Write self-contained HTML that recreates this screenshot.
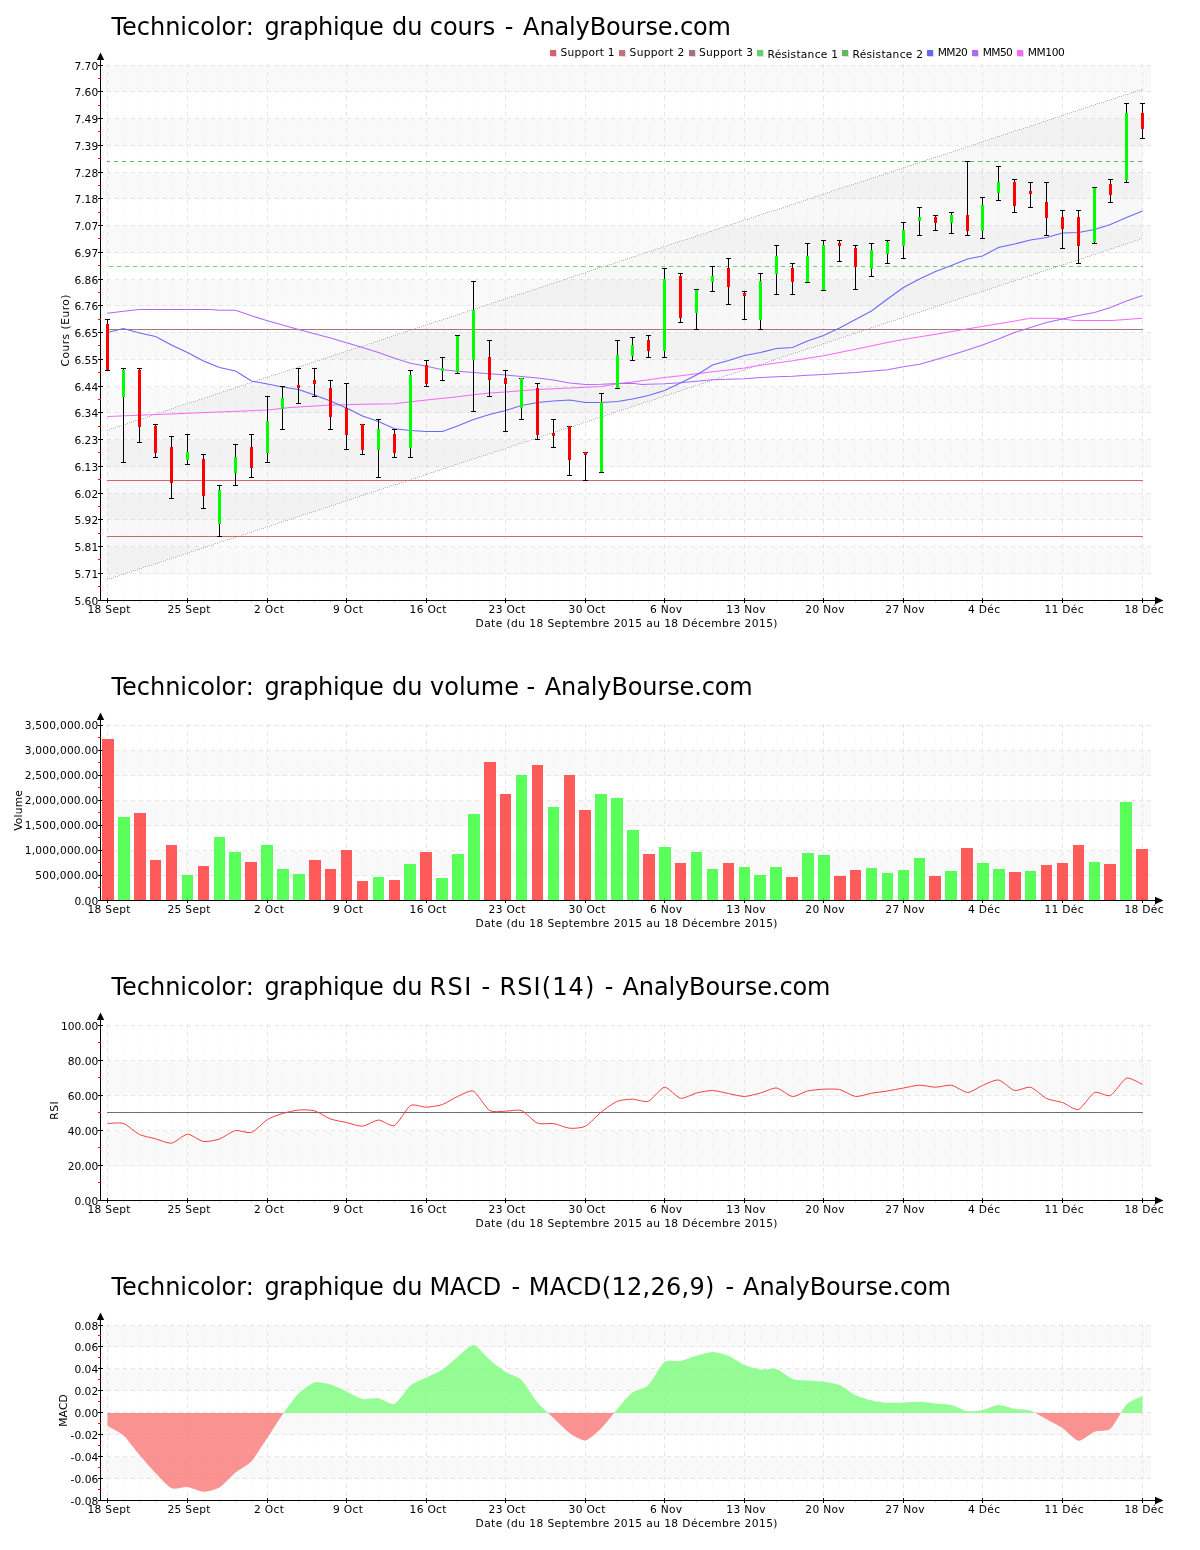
<!DOCTYPE html>
<html lang="fr"><head><meta charset="utf-8"><title>Technicolor - AnalyBourse.com</title>
<style>html,body{margin:0;padding:0;background:#fff}svg{display:block}text{font-family:"DejaVu Sans","Liberation Sans",sans-serif;fill:#000}.t{font-size:24px}.l{font-size:10.67px}</style></head><body>
<svg width="1200" height="1550" viewBox="0 0 1200 1550">
<rect width="1200" height="1550" fill="#fff"/>
<g shape-rendering="crispEdges">
<rect x="101" y="547" width="1050" height="27" fill="#f9f9f9"/>
<rect x="101" y="494" width="1050" height="26" fill="#f9f9f9"/>
<rect x="101" y="440" width="1050" height="27" fill="#f9f9f9"/>
<rect x="101" y="387" width="1050" height="26" fill="#f9f9f9"/>
<rect x="101" y="333" width="1050" height="27" fill="#f9f9f9"/>
<rect x="101" y="280" width="1050" height="26" fill="#f9f9f9"/>
<rect x="101" y="226" width="1050" height="27" fill="#f9f9f9"/>
<rect x="101" y="173" width="1050" height="26" fill="#f9f9f9"/>
<rect x="101" y="119" width="1050" height="27" fill="#f9f9f9"/>
<rect x="101" y="66" width="1050" height="26" fill="#f9f9f9"/>
<line x1="107.5" y1="64" x2="107.5" y2="600" stroke="#e5e5e5" stroke-dasharray="4 4"/>
<line x1="123.5" y1="64" x2="123.5" y2="600" stroke="#000" stroke-opacity="0.024" stroke-dasharray="6 6"/>
<line x1="139.5" y1="64" x2="139.5" y2="600" stroke="#000" stroke-opacity="0.024" stroke-dasharray="6 6"/>
<line x1="155.5" y1="64" x2="155.5" y2="600" stroke="#000" stroke-opacity="0.024" stroke-dasharray="6 6"/>
<line x1="171.5" y1="64" x2="171.5" y2="600" stroke="#000" stroke-opacity="0.024" stroke-dasharray="6 6"/>
<line x1="187.5" y1="64" x2="187.5" y2="600" stroke="#e5e5e5" stroke-dasharray="4 4"/>
<line x1="203.5" y1="64" x2="203.5" y2="600" stroke="#000" stroke-opacity="0.024" stroke-dasharray="6 6"/>
<line x1="219.5" y1="64" x2="219.5" y2="600" stroke="#000" stroke-opacity="0.024" stroke-dasharray="6 6"/>
<line x1="235.5" y1="64" x2="235.5" y2="600" stroke="#000" stroke-opacity="0.024" stroke-dasharray="6 6"/>
<line x1="251.5" y1="64" x2="251.5" y2="600" stroke="#000" stroke-opacity="0.024" stroke-dasharray="6 6"/>
<line x1="267.5" y1="64" x2="267.5" y2="600" stroke="#e5e5e5" stroke-dasharray="4 4"/>
<line x1="282.5" y1="64" x2="282.5" y2="600" stroke="#000" stroke-opacity="0.024" stroke-dasharray="6 6"/>
<line x1="298.5" y1="64" x2="298.5" y2="600" stroke="#000" stroke-opacity="0.024" stroke-dasharray="6 6"/>
<line x1="314.5" y1="64" x2="314.5" y2="600" stroke="#000" stroke-opacity="0.024" stroke-dasharray="6 6"/>
<line x1="330.5" y1="64" x2="330.5" y2="600" stroke="#000" stroke-opacity="0.024" stroke-dasharray="6 6"/>
<line x1="346.5" y1="64" x2="346.5" y2="600" stroke="#e5e5e5" stroke-dasharray="4 4"/>
<line x1="362.5" y1="64" x2="362.5" y2="600" stroke="#000" stroke-opacity="0.024" stroke-dasharray="6 6"/>
<line x1="378.5" y1="64" x2="378.5" y2="600" stroke="#000" stroke-opacity="0.024" stroke-dasharray="6 6"/>
<line x1="394.5" y1="64" x2="394.5" y2="600" stroke="#000" stroke-opacity="0.024" stroke-dasharray="6 6"/>
<line x1="410.5" y1="64" x2="410.5" y2="600" stroke="#000" stroke-opacity="0.024" stroke-dasharray="6 6"/>
<line x1="426.5" y1="64" x2="426.5" y2="600" stroke="#e5e5e5" stroke-dasharray="4 4"/>
<line x1="442.5" y1="64" x2="442.5" y2="600" stroke="#000" stroke-opacity="0.024" stroke-dasharray="6 6"/>
<line x1="457.5" y1="64" x2="457.5" y2="600" stroke="#000" stroke-opacity="0.024" stroke-dasharray="6 6"/>
<line x1="473.5" y1="64" x2="473.5" y2="600" stroke="#000" stroke-opacity="0.024" stroke-dasharray="6 6"/>
<line x1="489.5" y1="64" x2="489.5" y2="600" stroke="#000" stroke-opacity="0.024" stroke-dasharray="6 6"/>
<line x1="505.5" y1="64" x2="505.5" y2="600" stroke="#e5e5e5" stroke-dasharray="4 4"/>
<line x1="521.5" y1="64" x2="521.5" y2="600" stroke="#000" stroke-opacity="0.024" stroke-dasharray="6 6"/>
<line x1="537.5" y1="64" x2="537.5" y2="600" stroke="#000" stroke-opacity="0.024" stroke-dasharray="6 6"/>
<line x1="553.5" y1="64" x2="553.5" y2="600" stroke="#000" stroke-opacity="0.024" stroke-dasharray="6 6"/>
<line x1="569.5" y1="64" x2="569.5" y2="600" stroke="#000" stroke-opacity="0.024" stroke-dasharray="6 6"/>
<line x1="585.5" y1="64" x2="585.5" y2="600" stroke="#e5e5e5" stroke-dasharray="4 4"/>
<line x1="601.5" y1="64" x2="601.5" y2="600" stroke="#000" stroke-opacity="0.024" stroke-dasharray="6 6"/>
<line x1="617.5" y1="64" x2="617.5" y2="600" stroke="#000" stroke-opacity="0.024" stroke-dasharray="6 6"/>
<line x1="632.5" y1="64" x2="632.5" y2="600" stroke="#000" stroke-opacity="0.024" stroke-dasharray="6 6"/>
<line x1="648.5" y1="64" x2="648.5" y2="600" stroke="#000" stroke-opacity="0.024" stroke-dasharray="6 6"/>
<line x1="664.5" y1="64" x2="664.5" y2="600" stroke="#e5e5e5" stroke-dasharray="4 4"/>
<line x1="680.5" y1="64" x2="680.5" y2="600" stroke="#000" stroke-opacity="0.024" stroke-dasharray="6 6"/>
<line x1="696.5" y1="64" x2="696.5" y2="600" stroke="#000" stroke-opacity="0.024" stroke-dasharray="6 6"/>
<line x1="712.5" y1="64" x2="712.5" y2="600" stroke="#000" stroke-opacity="0.024" stroke-dasharray="6 6"/>
<line x1="728.5" y1="64" x2="728.5" y2="600" stroke="#000" stroke-opacity="0.024" stroke-dasharray="6 6"/>
<line x1="744.5" y1="64" x2="744.5" y2="600" stroke="#e5e5e5" stroke-dasharray="4 4"/>
<line x1="760.5" y1="64" x2="760.5" y2="600" stroke="#000" stroke-opacity="0.024" stroke-dasharray="6 6"/>
<line x1="776.5" y1="64" x2="776.5" y2="600" stroke="#000" stroke-opacity="0.024" stroke-dasharray="6 6"/>
<line x1="792.5" y1="64" x2="792.5" y2="600" stroke="#000" stroke-opacity="0.024" stroke-dasharray="6 6"/>
<line x1="807.5" y1="64" x2="807.5" y2="600" stroke="#000" stroke-opacity="0.024" stroke-dasharray="6 6"/>
<line x1="823.5" y1="64" x2="823.5" y2="600" stroke="#e5e5e5" stroke-dasharray="4 4"/>
<line x1="839.5" y1="64" x2="839.5" y2="600" stroke="#000" stroke-opacity="0.024" stroke-dasharray="6 6"/>
<line x1="855.5" y1="64" x2="855.5" y2="600" stroke="#000" stroke-opacity="0.024" stroke-dasharray="6 6"/>
<line x1="871.5" y1="64" x2="871.5" y2="600" stroke="#000" stroke-opacity="0.024" stroke-dasharray="6 6"/>
<line x1="887.5" y1="64" x2="887.5" y2="600" stroke="#000" stroke-opacity="0.024" stroke-dasharray="6 6"/>
<line x1="903.5" y1="64" x2="903.5" y2="600" stroke="#e5e5e5" stroke-dasharray="4 4"/>
<line x1="919.5" y1="64" x2="919.5" y2="600" stroke="#000" stroke-opacity="0.024" stroke-dasharray="6 6"/>
<line x1="935.5" y1="64" x2="935.5" y2="600" stroke="#000" stroke-opacity="0.024" stroke-dasharray="6 6"/>
<line x1="951.5" y1="64" x2="951.5" y2="600" stroke="#000" stroke-opacity="0.024" stroke-dasharray="6 6"/>
<line x1="967.5" y1="64" x2="967.5" y2="600" stroke="#000" stroke-opacity="0.024" stroke-dasharray="6 6"/>
<line x1="982.5" y1="64" x2="982.5" y2="600" stroke="#e5e5e5" stroke-dasharray="4 4"/>
<line x1="998.5" y1="64" x2="998.5" y2="600" stroke="#000" stroke-opacity="0.024" stroke-dasharray="6 6"/>
<line x1="1014.5" y1="64" x2="1014.5" y2="600" stroke="#000" stroke-opacity="0.024" stroke-dasharray="6 6"/>
<line x1="1030.5" y1="64" x2="1030.5" y2="600" stroke="#000" stroke-opacity="0.024" stroke-dasharray="6 6"/>
<line x1="1046.5" y1="64" x2="1046.5" y2="600" stroke="#000" stroke-opacity="0.024" stroke-dasharray="6 6"/>
<line x1="1062.5" y1="64" x2="1062.5" y2="600" stroke="#e5e5e5" stroke-dasharray="4 4"/>
<line x1="1078.5" y1="64" x2="1078.5" y2="600" stroke="#000" stroke-opacity="0.024" stroke-dasharray="6 6"/>
<line x1="1094.5" y1="64" x2="1094.5" y2="600" stroke="#000" stroke-opacity="0.024" stroke-dasharray="6 6"/>
<line x1="1110.5" y1="64" x2="1110.5" y2="600" stroke="#000" stroke-opacity="0.024" stroke-dasharray="6 6"/>
<line x1="1126.5" y1="64" x2="1126.5" y2="600" stroke="#000" stroke-opacity="0.024" stroke-dasharray="6 6"/>
<line x1="1142.5" y1="64" x2="1142.5" y2="600" stroke="#e5e5e5" stroke-dasharray="4 4"/>
<line x1="107" y1="573.5" x2="1151" y2="573.5" stroke="#e5e5e5" stroke-dasharray="4 4"/>
<line x1="107" y1="546.5" x2="1151" y2="546.5" stroke="#e5e5e5" stroke-dasharray="4 4"/>
<line x1="107" y1="519.5" x2="1151" y2="519.5" stroke="#e5e5e5" stroke-dasharray="4 4"/>
<line x1="107" y1="493.5" x2="1151" y2="493.5" stroke="#e5e5e5" stroke-dasharray="4 4"/>
<line x1="107" y1="466.5" x2="1151" y2="466.5" stroke="#e5e5e5" stroke-dasharray="4 4"/>
<line x1="107" y1="439.5" x2="1151" y2="439.5" stroke="#e5e5e5" stroke-dasharray="4 4"/>
<line x1="107" y1="412.5" x2="1151" y2="412.5" stroke="#e5e5e5" stroke-dasharray="4 4"/>
<line x1="107" y1="386.5" x2="1151" y2="386.5" stroke="#e5e5e5" stroke-dasharray="4 4"/>
<line x1="107" y1="359.5" x2="1151" y2="359.5" stroke="#e5e5e5" stroke-dasharray="4 4"/>
<line x1="107" y1="332.5" x2="1151" y2="332.5" stroke="#e5e5e5" stroke-dasharray="4 4"/>
<line x1="107" y1="305.5" x2="1151" y2="305.5" stroke="#e5e5e5" stroke-dasharray="4 4"/>
<line x1="107" y1="279.5" x2="1151" y2="279.5" stroke="#e5e5e5" stroke-dasharray="4 4"/>
<line x1="107" y1="252.5" x2="1151" y2="252.5" stroke="#e5e5e5" stroke-dasharray="4 4"/>
<line x1="107" y1="225.5" x2="1151" y2="225.5" stroke="#e5e5e5" stroke-dasharray="4 4"/>
<line x1="107" y1="198.5" x2="1151" y2="198.5" stroke="#e5e5e5" stroke-dasharray="4 4"/>
<line x1="107" y1="172.5" x2="1151" y2="172.5" stroke="#e5e5e5" stroke-dasharray="4 4"/>
<line x1="107" y1="145.5" x2="1151" y2="145.5" stroke="#e5e5e5" stroke-dasharray="4 4"/>
<line x1="107" y1="118.5" x2="1151" y2="118.5" stroke="#e5e5e5" stroke-dasharray="4 4"/>
<line x1="107" y1="91.5" x2="1151" y2="91.5" stroke="#e5e5e5" stroke-dasharray="4 4"/>
<line x1="107" y1="65.5" x2="1151" y2="65.5" stroke="#e5e5e5" stroke-dasharray="4 4"/>
<line x1="100.5" y1="59" x2="100.5" y2="601" stroke="#000"/>
<line x1="100" y1="600.5" x2="1157" y2="600.5" stroke="#000"/>
<line x1="98" y1="600.5" x2="103" y2="600.5" stroke="#000"/>
<line x1="98" y1="586.5" x2="101" y2="586.5" stroke="#f00"/>
<line x1="98" y1="573.5" x2="103" y2="573.5" stroke="#000"/>
<line x1="98" y1="559.5" x2="101" y2="559.5" stroke="#f00"/>
<line x1="98" y1="546.5" x2="103" y2="546.5" stroke="#000"/>
<line x1="98" y1="533.5" x2="101" y2="533.5" stroke="#f00"/>
<line x1="98" y1="519.5" x2="103" y2="519.5" stroke="#000"/>
<line x1="98" y1="506.5" x2="101" y2="506.5" stroke="#f00"/>
<line x1="98" y1="493.5" x2="103" y2="493.5" stroke="#000"/>
<line x1="98" y1="479.5" x2="101" y2="479.5" stroke="#f00"/>
<line x1="98" y1="466.5" x2="103" y2="466.5" stroke="#000"/>
<line x1="98" y1="452.5" x2="101" y2="452.5" stroke="#f00"/>
<line x1="98" y1="439.5" x2="103" y2="439.5" stroke="#000"/>
<line x1="98" y1="426.5" x2="101" y2="426.5" stroke="#f00"/>
<line x1="98" y1="412.5" x2="103" y2="412.5" stroke="#000"/>
<line x1="98" y1="399.5" x2="101" y2="399.5" stroke="#f00"/>
<line x1="98" y1="386.5" x2="103" y2="386.5" stroke="#000"/>
<line x1="98" y1="372.5" x2="101" y2="372.5" stroke="#f00"/>
<line x1="98" y1="359.5" x2="103" y2="359.5" stroke="#000"/>
<line x1="98" y1="345.5" x2="101" y2="345.5" stroke="#f00"/>
<line x1="98" y1="332.5" x2="103" y2="332.5" stroke="#000"/>
<line x1="98" y1="319.5" x2="101" y2="319.5" stroke="#f00"/>
<line x1="98" y1="305.5" x2="103" y2="305.5" stroke="#000"/>
<line x1="98" y1="292.5" x2="101" y2="292.5" stroke="#f00"/>
<line x1="98" y1="279.5" x2="103" y2="279.5" stroke="#000"/>
<line x1="98" y1="265.5" x2="101" y2="265.5" stroke="#f00"/>
<line x1="98" y1="252.5" x2="103" y2="252.5" stroke="#000"/>
<line x1="98" y1="238.5" x2="101" y2="238.5" stroke="#f00"/>
<line x1="98" y1="225.5" x2="103" y2="225.5" stroke="#000"/>
<line x1="98" y1="212.5" x2="101" y2="212.5" stroke="#f00"/>
<line x1="98" y1="198.5" x2="103" y2="198.5" stroke="#000"/>
<line x1="98" y1="185.5" x2="101" y2="185.5" stroke="#f00"/>
<line x1="98" y1="172.5" x2="103" y2="172.5" stroke="#000"/>
<line x1="98" y1="158.5" x2="101" y2="158.5" stroke="#f00"/>
<line x1="98" y1="145.5" x2="103" y2="145.5" stroke="#000"/>
<line x1="98" y1="131.5" x2="101" y2="131.5" stroke="#f00"/>
<line x1="98" y1="118.5" x2="103" y2="118.5" stroke="#000"/>
<line x1="98" y1="105.5" x2="101" y2="105.5" stroke="#f00"/>
<line x1="98" y1="91.5" x2="103" y2="91.5" stroke="#000"/>
<line x1="98" y1="78.5" x2="101" y2="78.5" stroke="#f00"/>
<line x1="98" y1="65.5" x2="103" y2="65.5" stroke="#000"/>
<line x1="107.5" y1="598" x2="107.5" y2="603" stroke="#000"/>
<line x1="123.5" y1="601" x2="123.5" y2="603" stroke="#e0e0e0"/>
<line x1="139.5" y1="601" x2="139.5" y2="603" stroke="#e0e0e0"/>
<line x1="155.5" y1="601" x2="155.5" y2="603" stroke="#e0e0e0"/>
<line x1="171.5" y1="601" x2="171.5" y2="603" stroke="#e0e0e0"/>
<line x1="187.5" y1="598" x2="187.5" y2="603" stroke="#000"/>
<line x1="203.5" y1="601" x2="203.5" y2="603" stroke="#e0e0e0"/>
<line x1="219.5" y1="601" x2="219.5" y2="603" stroke="#e0e0e0"/>
<line x1="235.5" y1="601" x2="235.5" y2="603" stroke="#e0e0e0"/>
<line x1="251.5" y1="601" x2="251.5" y2="603" stroke="#e0e0e0"/>
<line x1="267.5" y1="598" x2="267.5" y2="603" stroke="#000"/>
<line x1="282.5" y1="601" x2="282.5" y2="603" stroke="#e0e0e0"/>
<line x1="298.5" y1="601" x2="298.5" y2="603" stroke="#e0e0e0"/>
<line x1="314.5" y1="601" x2="314.5" y2="603" stroke="#e0e0e0"/>
<line x1="330.5" y1="601" x2="330.5" y2="603" stroke="#e0e0e0"/>
<line x1="346.5" y1="598" x2="346.5" y2="603" stroke="#000"/>
<line x1="362.5" y1="601" x2="362.5" y2="603" stroke="#e0e0e0"/>
<line x1="378.5" y1="601" x2="378.5" y2="603" stroke="#e0e0e0"/>
<line x1="394.5" y1="601" x2="394.5" y2="603" stroke="#e0e0e0"/>
<line x1="410.5" y1="601" x2="410.5" y2="603" stroke="#e0e0e0"/>
<line x1="426.5" y1="598" x2="426.5" y2="603" stroke="#000"/>
<line x1="442.5" y1="601" x2="442.5" y2="603" stroke="#e0e0e0"/>
<line x1="457.5" y1="601" x2="457.5" y2="603" stroke="#e0e0e0"/>
<line x1="473.5" y1="601" x2="473.5" y2="603" stroke="#e0e0e0"/>
<line x1="489.5" y1="601" x2="489.5" y2="603" stroke="#e0e0e0"/>
<line x1="505.5" y1="598" x2="505.5" y2="603" stroke="#000"/>
<line x1="521.5" y1="601" x2="521.5" y2="603" stroke="#e0e0e0"/>
<line x1="537.5" y1="601" x2="537.5" y2="603" stroke="#e0e0e0"/>
<line x1="553.5" y1="601" x2="553.5" y2="603" stroke="#e0e0e0"/>
<line x1="569.5" y1="601" x2="569.5" y2="603" stroke="#e0e0e0"/>
<line x1="585.5" y1="598" x2="585.5" y2="603" stroke="#000"/>
<line x1="601.5" y1="601" x2="601.5" y2="603" stroke="#e0e0e0"/>
<line x1="617.5" y1="601" x2="617.5" y2="603" stroke="#e0e0e0"/>
<line x1="632.5" y1="601" x2="632.5" y2="603" stroke="#e0e0e0"/>
<line x1="648.5" y1="601" x2="648.5" y2="603" stroke="#e0e0e0"/>
<line x1="664.5" y1="598" x2="664.5" y2="603" stroke="#000"/>
<line x1="680.5" y1="601" x2="680.5" y2="603" stroke="#e0e0e0"/>
<line x1="696.5" y1="601" x2="696.5" y2="603" stroke="#e0e0e0"/>
<line x1="712.5" y1="601" x2="712.5" y2="603" stroke="#e0e0e0"/>
<line x1="728.5" y1="601" x2="728.5" y2="603" stroke="#e0e0e0"/>
<line x1="744.5" y1="598" x2="744.5" y2="603" stroke="#000"/>
<line x1="760.5" y1="601" x2="760.5" y2="603" stroke="#e0e0e0"/>
<line x1="776.5" y1="601" x2="776.5" y2="603" stroke="#e0e0e0"/>
<line x1="792.5" y1="601" x2="792.5" y2="603" stroke="#e0e0e0"/>
<line x1="807.5" y1="601" x2="807.5" y2="603" stroke="#e0e0e0"/>
<line x1="823.5" y1="598" x2="823.5" y2="603" stroke="#000"/>
<line x1="839.5" y1="601" x2="839.5" y2="603" stroke="#e0e0e0"/>
<line x1="855.5" y1="601" x2="855.5" y2="603" stroke="#e0e0e0"/>
<line x1="871.5" y1="601" x2="871.5" y2="603" stroke="#e0e0e0"/>
<line x1="887.5" y1="601" x2="887.5" y2="603" stroke="#e0e0e0"/>
<line x1="903.5" y1="598" x2="903.5" y2="603" stroke="#000"/>
<line x1="919.5" y1="601" x2="919.5" y2="603" stroke="#e0e0e0"/>
<line x1="935.5" y1="601" x2="935.5" y2="603" stroke="#e0e0e0"/>
<line x1="951.5" y1="601" x2="951.5" y2="603" stroke="#e0e0e0"/>
<line x1="967.5" y1="601" x2="967.5" y2="603" stroke="#e0e0e0"/>
<line x1="982.5" y1="598" x2="982.5" y2="603" stroke="#000"/>
<line x1="998.5" y1="601" x2="998.5" y2="603" stroke="#e0e0e0"/>
<line x1="1014.5" y1="601" x2="1014.5" y2="603" stroke="#e0e0e0"/>
<line x1="1030.5" y1="601" x2="1030.5" y2="603" stroke="#e0e0e0"/>
<line x1="1046.5" y1="601" x2="1046.5" y2="603" stroke="#e0e0e0"/>
<line x1="1062.5" y1="598" x2="1062.5" y2="603" stroke="#000"/>
<line x1="1078.5" y1="601" x2="1078.5" y2="603" stroke="#e0e0e0"/>
<line x1="1094.5" y1="601" x2="1094.5" y2="603" stroke="#e0e0e0"/>
<line x1="1110.5" y1="601" x2="1110.5" y2="603" stroke="#e0e0e0"/>
<line x1="1126.5" y1="601" x2="1126.5" y2="603" stroke="#e0e0e0"/>
<line x1="1142.5" y1="598" x2="1142.5" y2="603" stroke="#000"/>
</g>
<polygon points="100.5,52.5 96.8,60 104.2,60" fill="#000"/>
<polygon points="1163.5,600.5 1155,596.7 1155,604.3" fill="#000"/>
<text class="l" x="98.2" y="604.7" text-anchor="end" textLength="23.8" lengthAdjust="spacing">5.60</text>
<text class="l" x="98.2" y="577.7" text-anchor="end" textLength="23.8" lengthAdjust="spacing">5.71</text>
<text class="l" x="98.2" y="550.7" text-anchor="end" textLength="23.8" lengthAdjust="spacing">5.81</text>
<text class="l" x="98.2" y="523.7" text-anchor="end" textLength="23.8" lengthAdjust="spacing">5.92</text>
<text class="l" x="98.2" y="497.7" text-anchor="end" textLength="23.8" lengthAdjust="spacing">6.02</text>
<text class="l" x="98.2" y="470.7" text-anchor="end" textLength="23.8" lengthAdjust="spacing">6.13</text>
<text class="l" x="98.2" y="443.7" text-anchor="end" textLength="23.8" lengthAdjust="spacing">6.23</text>
<text class="l" x="98.2" y="416.7" text-anchor="end" textLength="23.8" lengthAdjust="spacing">6.34</text>
<text class="l" x="98.2" y="390.7" text-anchor="end" textLength="23.8" lengthAdjust="spacing">6.44</text>
<text class="l" x="98.2" y="363.7" text-anchor="end" textLength="23.8" lengthAdjust="spacing">6.55</text>
<text class="l" x="98.2" y="336.7" text-anchor="end" textLength="23.8" lengthAdjust="spacing">6.65</text>
<text class="l" x="98.2" y="309.7" text-anchor="end" textLength="23.8" lengthAdjust="spacing">6.76</text>
<text class="l" x="98.2" y="283.7" text-anchor="end" textLength="23.8" lengthAdjust="spacing">6.86</text>
<text class="l" x="98.2" y="256.7" text-anchor="end" textLength="23.8" lengthAdjust="spacing">6.97</text>
<text class="l" x="98.2" y="229.7" text-anchor="end" textLength="23.8" lengthAdjust="spacing">7.07</text>
<text class="l" x="98.2" y="202.7" text-anchor="end" textLength="23.8" lengthAdjust="spacing">7.18</text>
<text class="l" x="98.2" y="176.7" text-anchor="end" textLength="23.8" lengthAdjust="spacing">7.28</text>
<text class="l" x="98.2" y="149.7" text-anchor="end" textLength="23.8" lengthAdjust="spacing">7.39</text>
<text class="l" x="98.2" y="122.7" text-anchor="end" textLength="23.8" lengthAdjust="spacing">7.49</text>
<text class="l" x="98.2" y="95.7" text-anchor="end" textLength="23.8" lengthAdjust="spacing">7.60</text>
<text class="l" x="98.2" y="69.7" text-anchor="end" textLength="23.8" lengthAdjust="spacing">7.70</text>
<text class="l" x="109" y="613" text-anchor="middle" textLength="42.9" lengthAdjust="spacing">18 Sept</text>
<text class="l" x="189" y="613" text-anchor="middle" textLength="42.9" lengthAdjust="spacing">25 Sept</text>
<text class="l" x="269" y="613" text-anchor="middle" textLength="29.8" lengthAdjust="spacing">2 Oct</text>
<text class="l" x="348" y="613" text-anchor="middle" textLength="29.8" lengthAdjust="spacing">9 Oct</text>
<text class="l" x="428" y="613" text-anchor="middle" textLength="36.8" lengthAdjust="spacing">16 Oct</text>
<text class="l" x="507" y="613" text-anchor="middle" textLength="36.8" lengthAdjust="spacing">23 Oct</text>
<text class="l" x="587" y="613" text-anchor="middle" textLength="36.8" lengthAdjust="spacing">30 Oct</text>
<text class="l" x="666" y="613" text-anchor="middle" textLength="32.2" lengthAdjust="spacing">6 Nov</text>
<text class="l" x="746" y="613" text-anchor="middle" textLength="39.3" lengthAdjust="spacing">13 Nov</text>
<text class="l" x="825" y="613" text-anchor="middle" textLength="39.3" lengthAdjust="spacing">20 Nov</text>
<text class="l" x="905" y="613" text-anchor="middle" textLength="39.3" lengthAdjust="spacing">27 Nov</text>
<text class="l" x="984" y="613" text-anchor="middle" textLength="32.1" lengthAdjust="spacing">4 Déc</text>
<text class="l" x="1064" y="613" text-anchor="middle" textLength="39.1" lengthAdjust="spacing">11 Déc</text>
<text class="l" x="1144" y="613" text-anchor="middle" textLength="39.1" lengthAdjust="spacing">18 Déc</text>
<text class="l" x="626.5" y="626.6" text-anchor="middle" textLength="302" lengthAdjust="spacing">Date (du 18 Septembre 2015 au 18 Décembre 2015)</text>
<text class="t" y="34.6" xml:space="preserve"><tspan x="111.4">Technicolor: </tspan><tspan x="264.4" letter-spacing="-0.35">graphique </tspan><tspan x="392.0">du </tspan><tspan x="429.7">cours </tspan><tspan x="504.8">- </tspan><tspan x="523.1" letter-spacing="-0.12">AnalyBourse.com</tspan></text>
<text class="l" transform="translate(69,330.5) rotate(-90)" text-anchor="middle" textLength="72.0" lengthAdjust="spacing">Cours (Euro)</text>
<polygon points="107.5,430 1142.5,89 1142.5,238.5 107.5,579.5" fill="#000" fill-opacity="0.026"/>
<path d="M107,430.5h1M109,429.5h1M111,428.5h1M113,428.5h1M115,427.5h1M117,426.5h1M119,426.5h1M121,425.5h1M123,424.5h1M125,424.5h1M127,423.5h1M129,422.5h1M131,422.5h1M133,421.5h1M135,420.5h1M137,420.5h1M139,419.5h1M141,418.5h1M143,418.5h1M145,417.5h1M147,416.5h1M149,416.5h1M151,415.5h1M153,414.5h1M155,414.5h1M157,413.5h1M159,412.5h1M161,412.5h1M163,411.5h1M165,410.5h1M167,410.5h1M169,409.5h1M171,408.5h1M173,408.5h1M175,407.5h1M177,406.5h1M179,406.5h1M181,405.5h1M183,404.5h1M185,404.5h1M187,403.5h1M189,402.5h1M191,402.5h1M193,401.5h1M195,401.5h1M197,400.5h1M199,399.5h1M201,399.5h1M203,398.5h1M205,397.5h1M207,397.5h1M209,396.5h1M211,395.5h1M213,395.5h1M215,394.5h1M217,393.5h1M219,393.5h1M221,392.5h1M223,391.5h1M225,391.5h1M227,390.5h1M229,389.5h1M231,389.5h1M233,388.5h1M235,387.5h1M237,387.5h1M239,386.5h1M241,385.5h1M243,385.5h1M245,384.5h1M247,383.5h1M249,383.5h1M251,382.5h1M253,381.5h1M255,381.5h1M257,380.5h1M259,379.5h1M261,379.5h1M263,378.5h1M265,377.5h1M267,377.5h1M269,376.5h1M271,375.5h1M273,375.5h1M275,374.5h1M277,374.5h1M279,373.5h1M281,372.5h1M283,372.5h1M285,371.5h1M287,370.5h1M289,370.5h1M291,369.5h1M293,368.5h1M295,368.5h1M297,367.5h1M299,366.5h1M301,366.5h1M303,365.5h1M305,364.5h1M307,364.5h1M309,363.5h1M311,362.5h1M313,362.5h1M315,361.5h1M317,360.5h1M319,360.5h1M321,359.5h1M323,358.5h1M325,358.5h1M327,357.5h1M329,356.5h1M331,356.5h1M333,355.5h1M335,354.5h1M337,354.5h1M339,353.5h1M341,352.5h1M343,352.5h1M345,351.5h1M347,350.5h1M349,350.5h1M351,349.5h1M353,348.5h1M355,348.5h1M357,347.5h1M359,347.5h1M361,346.5h1M363,345.5h1M365,345.5h1M367,344.5h1M369,343.5h1M371,343.5h1M373,342.5h1M375,341.5h1M377,341.5h1M379,340.5h1M381,339.5h1M383,339.5h1M385,338.5h1M387,337.5h1M389,337.5h1M391,336.5h1M393,335.5h1M395,335.5h1M397,334.5h1M399,333.5h1M401,333.5h1M403,332.5h1M405,331.5h1M407,331.5h1M409,330.5h1M411,329.5h1M413,329.5h1M415,328.5h1M417,327.5h1M419,327.5h1M421,326.5h1M423,325.5h1M425,325.5h1M427,324.5h1M429,323.5h1M431,323.5h1M433,322.5h1M435,321.5h1M437,321.5h1M439,320.5h1M441,320.5h1M443,319.5h1M445,318.5h1M447,318.5h1M449,317.5h1M451,316.5h1M453,316.5h1M455,315.5h1M457,314.5h1M459,314.5h1M461,313.5h1M463,312.5h1M465,312.5h1M467,311.5h1M469,310.5h1M471,310.5h1M473,309.5h1M475,308.5h1M477,308.5h1M479,307.5h1M481,306.5h1M483,306.5h1M485,305.5h1M487,304.5h1M489,304.5h1M491,303.5h1M493,302.5h1M495,302.5h1M497,301.5h1M499,300.5h1M501,300.5h1M503,299.5h1M505,298.5h1M507,298.5h1M509,297.5h1M511,296.5h1M513,296.5h1M515,295.5h1M517,294.5h1M519,294.5h1M521,293.5h1M523,293.5h1M525,292.5h1M527,291.5h1M529,291.5h1M531,290.5h1M533,289.5h1M535,289.5h1M537,288.5h1M539,287.5h1M541,287.5h1M543,286.5h1M545,285.5h1M547,285.5h1M549,284.5h1M551,283.5h1M553,283.5h1M555,282.5h1M557,281.5h1M559,281.5h1M561,280.5h1M563,279.5h1M565,279.5h1M567,278.5h1M569,277.5h1M571,277.5h1M573,276.5h1M575,275.5h1M577,275.5h1M579,274.5h1M581,273.5h1M583,273.5h1M585,272.5h1M587,271.5h1M589,271.5h1M591,270.5h1M593,269.5h1M595,269.5h1M597,268.5h1M599,267.5h1M601,267.5h1M603,266.5h1M605,266.5h1M607,265.5h1M609,264.5h1M611,264.5h1M613,263.5h1M615,262.5h1M617,262.5h1M619,261.5h1M621,260.5h1M623,260.5h1M625,259.5h1M627,258.5h1M629,258.5h1M631,257.5h1M633,256.5h1M635,256.5h1M637,255.5h1M639,254.5h1M641,254.5h1M643,253.5h1M645,252.5h1M647,252.5h1M649,251.5h1M651,250.5h1M653,250.5h1M655,249.5h1M657,248.5h1M659,248.5h1M661,247.5h1M663,246.5h1M665,246.5h1M667,245.5h1M669,244.5h1M671,244.5h1M673,243.5h1M675,242.5h1M677,242.5h1M679,241.5h1M681,240.5h1M683,240.5h1M685,239.5h1M687,239.5h1M689,238.5h1M691,237.5h1M693,237.5h1M695,236.5h1M697,235.5h1M699,235.5h1M701,234.5h1M703,233.5h1M705,233.5h1M707,232.5h1M709,231.5h1M711,231.5h1M713,230.5h1M715,229.5h1M717,229.5h1M719,228.5h1M721,227.5h1M723,227.5h1M725,226.5h1M727,225.5h1M729,225.5h1M731,224.5h1M733,223.5h1M735,223.5h1M737,222.5h1M739,221.5h1M741,221.5h1M743,220.5h1M745,219.5h1M747,219.5h1M749,218.5h1M751,217.5h1M753,217.5h1M755,216.5h1M757,215.5h1M759,215.5h1M761,214.5h1M763,213.5h1M765,213.5h1M767,212.5h1M769,211.5h1M771,211.5h1M773,210.5h1M775,210.5h1M777,209.5h1M779,208.5h1M781,208.5h1M783,207.5h1M785,206.5h1M787,206.5h1M789,205.5h1M791,204.5h1M793,204.5h1M795,203.5h1M797,202.5h1M799,202.5h1M801,201.5h1M803,200.5h1M805,200.5h1M807,199.5h1M809,198.5h1M811,198.5h1M813,197.5h1M815,196.5h1M817,196.5h1M819,195.5h1M821,194.5h1M823,194.5h1M825,193.5h1M827,192.5h1M829,192.5h1M831,191.5h1M833,190.5h1M835,190.5h1M837,189.5h1M839,188.5h1M841,188.5h1M843,187.5h1M845,186.5h1M847,186.5h1M849,185.5h1M851,184.5h1M853,184.5h1M855,183.5h1M857,183.5h1M859,182.5h1M861,181.5h1M863,181.5h1M865,180.5h1M867,179.5h1M869,179.5h1M871,178.5h1M873,177.5h1M875,177.5h1M877,176.5h1M879,175.5h1M881,175.5h1M883,174.5h1M885,173.5h1M887,173.5h1M889,172.5h1M891,171.5h1M893,171.5h1M895,170.5h1M897,169.5h1M899,169.5h1M901,168.5h1M903,167.5h1M905,167.5h1M907,166.5h1M909,165.5h1M911,165.5h1M913,164.5h1M915,163.5h1M917,163.5h1M919,162.5h1M921,161.5h1M923,161.5h1M925,160.5h1M927,159.5h1M929,159.5h1M931,158.5h1M933,157.5h1M935,157.5h1M937,156.5h1M939,156.5h1M941,155.5h1M943,154.5h1M945,154.5h1M947,153.5h1M949,152.5h1M951,152.5h1M953,151.5h1M955,150.5h1M957,150.5h1M959,149.5h1M961,148.5h1M963,148.5h1M965,147.5h1M967,146.5h1M969,146.5h1M971,145.5h1M973,144.5h1M975,144.5h1M977,143.5h1M979,142.5h1M981,142.5h1M983,141.5h1M985,140.5h1M987,140.5h1M989,139.5h1M991,138.5h1M993,138.5h1M995,137.5h1M997,136.5h1M999,136.5h1M1001,135.5h1M1003,134.5h1M1005,134.5h1M1007,133.5h1M1009,132.5h1M1011,132.5h1M1013,131.5h1M1015,130.5h1M1017,130.5h1M1019,129.5h1M1021,129.5h1M1023,128.5h1M1025,127.5h1M1027,127.5h1M1029,126.5h1M1031,125.5h1M1033,125.5h1M1035,124.5h1M1037,123.5h1M1039,123.5h1M1041,122.5h1M1043,121.5h1M1045,121.5h1M1047,120.5h1M1049,119.5h1M1051,119.5h1M1053,118.5h1M1055,117.5h1M1057,117.5h1M1059,116.5h1M1061,115.5h1M1063,115.5h1M1065,114.5h1M1067,113.5h1M1069,113.5h1M1071,112.5h1M1073,111.5h1M1075,111.5h1M1077,110.5h1M1079,109.5h1M1081,109.5h1M1083,108.5h1M1085,107.5h1M1087,107.5h1M1089,106.5h1M1091,105.5h1M1093,105.5h1M1095,104.5h1M1097,103.5h1M1099,103.5h1M1101,102.5h1M1103,102.5h1M1105,101.5h1M1107,100.5h1M1109,100.5h1M1111,99.5h1M1113,98.5h1M1115,98.5h1M1117,97.5h1M1119,96.5h1M1121,96.5h1M1123,95.5h1M1125,94.5h1M1127,94.5h1M1129,93.5h1M1131,92.5h1M1133,92.5h1M1135,91.5h1M1137,90.5h1M1139,90.5h1M1141,89.5h1" stroke="#b8b8b8" fill="none" shape-rendering="crispEdges"/>
<path d="M107,579.5h1M109,578.5h1M111,578.5h1M113,577.5h1M115,576.5h1M117,576.5h1M119,575.5h1M121,574.5h1M123,574.5h1M125,573.5h1M127,572.5h1M129,572.5h1M131,571.5h1M133,570.5h1M135,570.5h1M137,569.5h1M139,568.5h1M141,568.5h1M143,567.5h1M145,566.5h1M147,566.5h1M149,565.5h1M151,565.5h1M153,564.5h1M155,563.5h1M157,563.5h1M159,562.5h1M161,561.5h1M163,561.5h1M165,560.5h1M167,559.5h1M169,559.5h1M171,558.5h1M173,557.5h1M175,557.5h1M177,556.5h1M179,555.5h1M181,555.5h1M183,554.5h1M185,553.5h1M187,553.5h1M189,552.5h1M191,551.5h1M193,551.5h1M195,550.5h1M197,549.5h1M199,549.5h1M201,548.5h1M203,547.5h1M205,547.5h1M207,546.5h1M209,545.5h1M211,545.5h1M213,544.5h1M215,543.5h1M217,543.5h1M219,542.5h1M221,541.5h1M223,541.5h1M225,540.5h1M227,539.5h1M229,539.5h1M231,538.5h1M233,538.5h1M235,537.5h1M237,536.5h1M239,536.5h1M241,535.5h1M243,534.5h1M245,534.5h1M247,533.5h1M249,532.5h1M251,532.5h1M253,531.5h1M255,530.5h1M257,530.5h1M259,529.5h1M261,528.5h1M263,528.5h1M265,527.5h1M267,526.5h1M269,526.5h1M271,525.5h1M273,524.5h1M275,524.5h1M277,523.5h1M279,522.5h1M281,522.5h1M283,521.5h1M285,520.5h1M287,520.5h1M289,519.5h1M291,518.5h1M293,518.5h1M295,517.5h1M297,516.5h1M299,516.5h1M301,515.5h1M303,514.5h1M305,514.5h1M307,513.5h1M309,512.5h1M311,512.5h1M313,511.5h1M315,511.5h1M317,510.5h1M319,509.5h1M321,509.5h1M323,508.5h1M325,507.5h1M327,507.5h1M329,506.5h1M331,505.5h1M333,505.5h1M335,504.5h1M337,503.5h1M339,503.5h1M341,502.5h1M343,501.5h1M345,501.5h1M347,500.5h1M349,499.5h1M351,499.5h1M353,498.5h1M355,497.5h1M357,497.5h1M359,496.5h1M361,495.5h1M363,495.5h1M365,494.5h1M367,493.5h1M369,493.5h1M371,492.5h1M373,491.5h1M375,491.5h1M377,490.5h1M379,489.5h1M381,489.5h1M383,488.5h1M385,487.5h1M387,487.5h1M389,486.5h1M391,485.5h1M393,485.5h1M395,484.5h1M397,484.5h1M399,483.5h1M401,482.5h1M403,482.5h1M405,481.5h1M407,480.5h1M409,480.5h1M411,479.5h1M413,478.5h1M415,478.5h1M417,477.5h1M419,476.5h1M421,476.5h1M423,475.5h1M425,474.5h1M427,474.5h1M429,473.5h1M431,472.5h1M433,472.5h1M435,471.5h1M437,470.5h1M439,470.5h1M441,469.5h1M443,468.5h1M445,468.5h1M447,467.5h1M449,466.5h1M451,466.5h1M453,465.5h1M455,464.5h1M457,464.5h1M459,463.5h1M461,462.5h1M463,462.5h1M465,461.5h1M467,460.5h1M469,460.5h1M471,459.5h1M473,458.5h1M475,458.5h1M477,457.5h1M479,456.5h1M481,456.5h1M483,455.5h1M485,455.5h1M487,454.5h1M489,453.5h1M491,453.5h1M493,452.5h1M495,451.5h1M497,451.5h1M499,450.5h1M501,449.5h1M503,449.5h1M505,448.5h1M507,447.5h1M509,447.5h1M511,446.5h1M513,445.5h1M515,445.5h1M517,444.5h1M519,443.5h1M521,443.5h1M523,442.5h1M525,441.5h1M527,441.5h1M529,440.5h1M531,439.5h1M533,439.5h1M535,438.5h1M537,437.5h1M539,437.5h1M541,436.5h1M543,435.5h1M545,435.5h1M547,434.5h1M549,433.5h1M551,433.5h1M553,432.5h1M555,431.5h1M557,431.5h1M559,430.5h1M561,429.5h1M563,429.5h1M565,428.5h1M567,428.5h1M569,427.5h1M571,426.5h1M573,426.5h1M575,425.5h1M577,424.5h1M579,424.5h1M581,423.5h1M583,422.5h1M585,422.5h1M587,421.5h1M589,420.5h1M591,420.5h1M593,419.5h1M595,418.5h1M597,418.5h1M599,417.5h1M601,416.5h1M603,416.5h1M605,415.5h1M607,414.5h1M609,414.5h1M611,413.5h1M613,412.5h1M615,412.5h1M617,411.5h1M619,410.5h1M621,410.5h1M623,409.5h1M625,408.5h1M627,408.5h1M629,407.5h1M631,406.5h1M633,406.5h1M635,405.5h1M637,404.5h1M639,404.5h1M641,403.5h1M643,402.5h1M645,402.5h1M647,401.5h1M649,401.5h1M651,400.5h1M653,399.5h1M655,399.5h1M657,398.5h1M659,397.5h1M661,397.5h1M663,396.5h1M665,395.5h1M667,395.5h1M669,394.5h1M671,393.5h1M673,393.5h1M675,392.5h1M677,391.5h1M679,391.5h1M681,390.5h1M683,389.5h1M685,389.5h1M687,388.5h1M689,387.5h1M691,387.5h1M693,386.5h1M695,385.5h1M697,385.5h1M699,384.5h1M701,383.5h1M703,383.5h1M705,382.5h1M707,381.5h1M709,381.5h1M711,380.5h1M713,379.5h1M715,379.5h1M717,378.5h1M719,377.5h1M721,377.5h1M723,376.5h1M725,375.5h1M727,375.5h1M729,374.5h1M731,374.5h1M733,373.5h1M735,372.5h1M737,372.5h1M739,371.5h1M741,370.5h1M743,370.5h1M745,369.5h1M747,368.5h1M749,368.5h1M751,367.5h1M753,366.5h1M755,366.5h1M757,365.5h1M759,364.5h1M761,364.5h1M763,363.5h1M765,362.5h1M767,362.5h1M769,361.5h1M771,360.5h1M773,360.5h1M775,359.5h1M777,358.5h1M779,358.5h1M781,357.5h1M783,356.5h1M785,356.5h1M787,355.5h1M789,354.5h1M791,354.5h1M793,353.5h1M795,352.5h1M797,352.5h1M799,351.5h1M801,350.5h1M803,350.5h1M805,349.5h1M807,348.5h1M809,348.5h1M811,347.5h1M813,347.5h1M815,346.5h1M817,345.5h1M819,345.5h1M821,344.5h1M823,343.5h1M825,343.5h1M827,342.5h1M829,341.5h1M831,341.5h1M833,340.5h1M835,339.5h1M837,339.5h1M839,338.5h1M841,337.5h1M843,337.5h1M845,336.5h1M847,335.5h1M849,335.5h1M851,334.5h1M853,333.5h1M855,333.5h1M857,332.5h1M859,331.5h1M861,331.5h1M863,330.5h1M865,329.5h1M867,329.5h1M869,328.5h1M871,327.5h1M873,327.5h1M875,326.5h1M877,325.5h1M879,325.5h1M881,324.5h1M883,323.5h1M885,323.5h1M887,322.5h1M889,321.5h1M891,321.5h1M893,320.5h1M895,320.5h1M897,319.5h1M899,318.5h1M901,318.5h1M903,317.5h1M905,316.5h1M907,316.5h1M909,315.5h1M911,314.5h1M913,314.5h1M915,313.5h1M917,312.5h1M919,312.5h1M921,311.5h1M923,310.5h1M925,310.5h1M927,309.5h1M929,308.5h1M931,308.5h1M933,307.5h1M935,306.5h1M937,306.5h1M939,305.5h1M941,304.5h1M943,304.5h1M945,303.5h1M947,302.5h1M949,302.5h1M951,301.5h1M953,300.5h1M955,300.5h1M957,299.5h1M959,298.5h1M961,298.5h1M963,297.5h1M965,296.5h1M967,296.5h1M969,295.5h1M971,294.5h1M973,294.5h1M975,293.5h1M977,293.5h1M979,292.5h1M981,291.5h1M983,291.5h1M985,290.5h1M987,289.5h1M989,289.5h1M991,288.5h1M993,287.5h1M995,287.5h1M997,286.5h1M999,285.5h1M1001,285.5h1M1003,284.5h1M1005,283.5h1M1007,283.5h1M1009,282.5h1M1011,281.5h1M1013,281.5h1M1015,280.5h1M1017,279.5h1M1019,279.5h1M1021,278.5h1M1023,277.5h1M1025,277.5h1M1027,276.5h1M1029,275.5h1M1031,275.5h1M1033,274.5h1M1035,273.5h1M1037,273.5h1M1039,272.5h1M1041,271.5h1M1043,271.5h1M1045,270.5h1M1047,269.5h1M1049,269.5h1M1051,268.5h1M1053,267.5h1M1055,267.5h1M1057,266.5h1M1059,265.5h1M1061,265.5h1M1063,264.5h1M1065,264.5h1M1067,263.5h1M1069,262.5h1M1071,262.5h1M1073,261.5h1M1075,260.5h1M1077,260.5h1M1079,259.5h1M1081,258.5h1M1083,258.5h1M1085,257.5h1M1087,256.5h1M1089,256.5h1M1091,255.5h1M1093,254.5h1M1095,254.5h1M1097,253.5h1M1099,252.5h1M1101,252.5h1M1103,251.5h1M1105,250.5h1M1107,250.5h1M1109,249.5h1M1111,248.5h1M1113,248.5h1M1115,247.5h1M1117,246.5h1M1119,246.5h1M1121,245.5h1M1123,244.5h1M1125,244.5h1M1127,243.5h1M1129,242.5h1M1131,242.5h1M1133,241.5h1M1135,240.5h1M1137,240.5h1M1139,239.5h1M1141,238.5h1" stroke="#b8b8b8" fill="none" shape-rendering="crispEdges"/>
<g shape-rendering="crispEdges">
<line x1="107" y1="329.5" x2="1143" y2="329.5" stroke="#a87676"/>
<line x1="107" y1="480.5" x2="1143" y2="480.5" stroke="#cd696e"/>
<line x1="107" y1="536.5" x2="1143" y2="536.5" stroke="#be6e73"/>
<line x1="107" y1="161.5" x2="1143" y2="161.5" stroke="#66b466" stroke-dasharray="4 4" stroke-dashoffset="1"/>
<line x1="109" y1="266.5" x2="1143" y2="266.5" stroke="#70d070" stroke-dasharray="4 4"/>
</g>
<polyline fill="none" stroke="#f868f8" stroke-width="1.05" points="107.5,416.5 267.5,410.0 290.0,407.5 330.5,405.0 362.5,404.2 394.5,403.7 410.5,401.7 426.5,400.0 457.5,396.7 473.5,394.7 489.5,393.0 505.5,392.0 537.5,389.5 569.5,388.0 601.5,386.5 617.5,383.7 632.5,382.0 648.5,379.7 664.5,377.5 680.5,375.8 696.5,373.7 712.5,371.7 728.5,370.0 744.5,368.0 760.5,365.3 776.5,363.0 792.5,360.8 807.5,358.2 823.5,355.8 855.5,349.2 887.5,342.5 903.5,339.5 935.5,334.2 966.7,329.0 1000.0,323.5 1030.5,318.3 1055.0,318.3 1075.0,320.5 1112.0,320.5 1142.5,318.3"/>
<polyline fill="none" stroke="#b068f8" stroke-width="1.05" points="107.5,313.3 123.5,311.3 139.5,309.5 210.0,309.5 219.5,310.3 235.5,310.3 251.5,315.8 267.5,320.8 282.5,325.0 298.5,329.5 330.5,338.0 362.5,347.5 378.5,352.5 394.5,358.3 410.5,363.3 426.5,366.3 442.5,369.7 457.5,371.3 473.5,372.5 489.5,373.8 505.5,375.0 521.5,376.5 537.5,378.0 553.5,380.0 569.5,383.0 585.5,384.5 601.5,384.2 617.5,383.5 632.5,383.3 641.5,384.5 664.5,383.7 680.5,382.7 696.5,381.3 712.5,379.7 728.5,379.3 744.5,378.7 760.5,377.5 776.5,376.7 792.5,376.3 807.5,375.3 823.5,374.5 855.5,372.5 887.5,369.7 903.5,366.7 919.5,364.2 935.5,359.7 951.5,355.0 967.5,350.0 982.5,345.0 998.5,339.0 1014.5,332.5 1030.5,327.5 1046.5,322.5 1062.5,319.0 1078.5,315.5 1094.5,312.5 1110.5,307.5 1126.5,301.0 1142.5,295.5"/>
<polyline fill="none" stroke="#6868f8" stroke-width="1.05" points="107.5,332.5 123.5,328.5 139.5,333.0 155.5,336.5 171.5,345.0 187.5,352.5 203.5,361.0 219.5,367.5 235.5,371.0 251.5,381.0 267.5,384.0 282.5,387.0 298.5,389.5 314.5,395.0 330.5,401.0 346.5,408.0 362.5,416.0 378.5,421.5 394.5,428.8 410.5,430.5 426.5,431.5 442.5,431.5 457.5,426.0 473.5,419.5 489.5,414.5 505.5,410.5 521.5,405.5 537.5,402.5 553.5,401.0 569.5,400.0 585.5,402.5 601.5,402.5 617.5,401.5 632.5,399.0 648.5,395.5 664.5,390.5 680.5,383.0 696.5,375.0 712.5,365.0 728.5,360.5 744.5,355.5 760.5,352.5 776.5,348.5 792.5,347.5 807.5,341.0 823.5,335.5 839.5,328.0 855.5,319.5 871.5,311.0 887.5,299.0 903.5,287.5 919.5,279.0 935.5,271.5 951.5,265.5 967.5,259.0 982.5,256.0 998.5,247.5 1014.5,244.0 1030.5,240.0 1046.5,237.5 1062.5,233.0 1078.5,232.5 1094.5,229.5 1110.5,224.5 1126.5,217.5 1142.5,211.0"/>
<g shape-rendering="crispEdges">
<rect x="107" y="319" width="1" height="52" fill="#000"/>
<rect x="105" y="319" width="5" height="1" fill="#000"/>
<rect x="105" y="370" width="5" height="1" fill="#000"/>
<rect x="106" y="324" width="3" height="46" fill="#f00"/>
<rect x="123" y="368" width="1" height="95" fill="#000"/>
<rect x="121" y="368" width="5" height="1" fill="#000"/>
<rect x="121" y="462" width="5" height="1" fill="#000"/>
<rect x="122" y="370" width="3" height="27" fill="#0f0"/>
<rect x="139" y="368" width="1" height="75" fill="#000"/>
<rect x="137" y="368" width="5" height="1" fill="#000"/>
<rect x="137" y="442" width="5" height="1" fill="#000"/>
<rect x="138" y="370" width="3" height="57" fill="#f00"/>
<rect x="155" y="424" width="1" height="34" fill="#000"/>
<rect x="153" y="424" width="5" height="1" fill="#000"/>
<rect x="153" y="457" width="5" height="1" fill="#000"/>
<rect x="154" y="426" width="3" height="27" fill="#f00"/>
<rect x="171" y="436" width="1" height="63" fill="#000"/>
<rect x="169" y="436" width="5" height="1" fill="#000"/>
<rect x="169" y="498" width="5" height="1" fill="#000"/>
<rect x="170" y="447" width="3" height="36" fill="#f00"/>
<rect x="187" y="434" width="1" height="31" fill="#000"/>
<rect x="185" y="434" width="5" height="1" fill="#000"/>
<rect x="185" y="464" width="5" height="1" fill="#000"/>
<rect x="186" y="452" width="3" height="8" fill="#0f0"/>
<rect x="203" y="454" width="1" height="55" fill="#000"/>
<rect x="201" y="454" width="5" height="1" fill="#000"/>
<rect x="201" y="508" width="5" height="1" fill="#000"/>
<rect x="202" y="459" width="3" height="37" fill="#f00"/>
<rect x="219" y="485" width="1" height="52" fill="#000"/>
<rect x="217" y="485" width="5" height="1" fill="#000"/>
<rect x="217" y="536" width="5" height="1" fill="#000"/>
<rect x="218" y="490" width="3" height="34" fill="#0f0"/>
<rect x="235" y="444" width="1" height="42" fill="#000"/>
<rect x="233" y="444" width="5" height="1" fill="#000"/>
<rect x="233" y="485" width="5" height="1" fill="#000"/>
<rect x="234" y="457" width="3" height="16" fill="#0f0"/>
<rect x="251" y="434" width="1" height="44" fill="#000"/>
<rect x="249" y="434" width="5" height="1" fill="#000"/>
<rect x="249" y="477" width="5" height="1" fill="#000"/>
<rect x="250" y="447" width="3" height="21" fill="#f00"/>
<rect x="267" y="396" width="1" height="67" fill="#000"/>
<rect x="265" y="396" width="5" height="1" fill="#000"/>
<rect x="265" y="462" width="5" height="1" fill="#000"/>
<rect x="266" y="421" width="3" height="32" fill="#0f0"/>
<rect x="282" y="386" width="1" height="44" fill="#000"/>
<rect x="280" y="386" width="5" height="1" fill="#000"/>
<rect x="280" y="429" width="5" height="1" fill="#000"/>
<rect x="281" y="398" width="3" height="11" fill="#0f0"/>
<rect x="298" y="368" width="1" height="36" fill="#000"/>
<rect x="296" y="368" width="5" height="1" fill="#000"/>
<rect x="296" y="403" width="5" height="1" fill="#000"/>
<rect x="297" y="385" width="3" height="3" fill="#f00"/>
<rect x="314" y="368" width="1" height="29" fill="#000"/>
<rect x="312" y="368" width="5" height="1" fill="#000"/>
<rect x="312" y="396" width="5" height="1" fill="#000"/>
<rect x="313" y="380" width="3" height="4" fill="#f00"/>
<rect x="330" y="380" width="1" height="50" fill="#000"/>
<rect x="328" y="380" width="5" height="1" fill="#000"/>
<rect x="328" y="429" width="5" height="1" fill="#000"/>
<rect x="329" y="388" width="3" height="29" fill="#f00"/>
<rect x="346" y="383" width="1" height="67" fill="#000"/>
<rect x="344" y="383" width="5" height="1" fill="#000"/>
<rect x="344" y="449" width="5" height="1" fill="#000"/>
<rect x="345" y="408" width="3" height="27" fill="#f00"/>
<rect x="362" y="424" width="1" height="31" fill="#000"/>
<rect x="360" y="424" width="5" height="1" fill="#000"/>
<rect x="360" y="454" width="5" height="1" fill="#000"/>
<rect x="361" y="424" width="3" height="26" fill="#f00"/>
<rect x="378" y="419" width="1" height="59" fill="#000"/>
<rect x="376" y="419" width="5" height="1" fill="#000"/>
<rect x="376" y="477" width="5" height="1" fill="#000"/>
<rect x="377" y="429" width="3" height="21" fill="#0f0"/>
<rect x="394" y="429" width="1" height="29" fill="#000"/>
<rect x="392" y="429" width="5" height="1" fill="#000"/>
<rect x="392" y="457" width="5" height="1" fill="#000"/>
<rect x="393" y="434" width="3" height="19" fill="#f00"/>
<rect x="410" y="370" width="1" height="88" fill="#000"/>
<rect x="408" y="370" width="5" height="1" fill="#000"/>
<rect x="408" y="457" width="5" height="1" fill="#000"/>
<rect x="409" y="375" width="3" height="73" fill="#0f0"/>
<rect x="426" y="360" width="1" height="27" fill="#000"/>
<rect x="424" y="360" width="5" height="1" fill="#000"/>
<rect x="424" y="386" width="5" height="1" fill="#000"/>
<rect x="425" y="365" width="3" height="19" fill="#f00"/>
<rect x="442" y="357" width="1" height="24" fill="#000"/>
<rect x="440" y="357" width="5" height="1" fill="#000"/>
<rect x="440" y="380" width="5" height="1" fill="#000"/>
<rect x="441" y="368" width="3" height="3" fill="#0f0"/>
<rect x="457" y="335" width="1" height="39" fill="#000"/>
<rect x="455" y="335" width="5" height="1" fill="#000"/>
<rect x="455" y="373" width="5" height="1" fill="#000"/>
<rect x="456" y="336" width="3" height="36" fill="#0f0"/>
<rect x="473" y="281" width="1" height="131" fill="#000"/>
<rect x="471" y="281" width="5" height="1" fill="#000"/>
<rect x="471" y="411" width="5" height="1" fill="#000"/>
<rect x="472" y="310" width="3" height="50" fill="#0f0"/>
<rect x="489" y="340" width="1" height="57" fill="#000"/>
<rect x="487" y="340" width="5" height="1" fill="#000"/>
<rect x="487" y="396" width="5" height="1" fill="#000"/>
<rect x="488" y="357" width="3" height="23" fill="#f00"/>
<rect x="505" y="370" width="1" height="62" fill="#000"/>
<rect x="503" y="370" width="5" height="1" fill="#000"/>
<rect x="503" y="431" width="5" height="1" fill="#000"/>
<rect x="504" y="378" width="3" height="6" fill="#f00"/>
<rect x="521" y="378" width="1" height="42" fill="#000"/>
<rect x="519" y="378" width="5" height="1" fill="#000"/>
<rect x="519" y="419" width="5" height="1" fill="#000"/>
<rect x="520" y="378" width="3" height="30" fill="#0f0"/>
<rect x="537" y="383" width="1" height="57" fill="#000"/>
<rect x="535" y="383" width="5" height="1" fill="#000"/>
<rect x="535" y="439" width="5" height="1" fill="#000"/>
<rect x="536" y="388" width="3" height="47" fill="#f00"/>
<rect x="553" y="419" width="1" height="29" fill="#000"/>
<rect x="551" y="419" width="5" height="1" fill="#000"/>
<rect x="551" y="447" width="5" height="1" fill="#000"/>
<rect x="552" y="433" width="3" height="3" fill="#f00"/>
<rect x="569" y="426" width="1" height="50" fill="#000"/>
<rect x="567" y="426" width="5" height="1" fill="#000"/>
<rect x="567" y="475" width="5" height="1" fill="#000"/>
<rect x="568" y="426" width="3" height="34" fill="#f00"/>
<rect x="585" y="452" width="1" height="29" fill="#000"/>
<rect x="583" y="452" width="5" height="1" fill="#000"/>
<rect x="583" y="480" width="5" height="1" fill="#000"/>
<rect x="584" y="452" width="3" height="3" fill="#f00"/>
<rect x="601" y="393" width="1" height="80" fill="#000"/>
<rect x="599" y="393" width="5" height="1" fill="#000"/>
<rect x="599" y="472" width="5" height="1" fill="#000"/>
<rect x="600" y="402" width="3" height="70" fill="#0f0"/>
<rect x="617" y="340" width="1" height="49" fill="#000"/>
<rect x="615" y="340" width="5" height="1" fill="#000"/>
<rect x="615" y="388" width="5" height="1" fill="#000"/>
<rect x="616" y="355" width="3" height="33" fill="#0f0"/>
<rect x="632" y="337" width="1" height="24" fill="#000"/>
<rect x="630" y="337" width="5" height="1" fill="#000"/>
<rect x="630" y="360" width="5" height="1" fill="#000"/>
<rect x="631" y="345" width="3" height="11" fill="#0f0"/>
<rect x="648" y="335" width="1" height="23" fill="#000"/>
<rect x="646" y="335" width="5" height="1" fill="#000"/>
<rect x="646" y="357" width="5" height="1" fill="#000"/>
<rect x="647" y="340" width="3" height="11" fill="#f00"/>
<rect x="664" y="268" width="1" height="90" fill="#000"/>
<rect x="662" y="268" width="5" height="1" fill="#000"/>
<rect x="662" y="357" width="5" height="1" fill="#000"/>
<rect x="663" y="279" width="3" height="72" fill="#0f0"/>
<rect x="680" y="273" width="1" height="50" fill="#000"/>
<rect x="678" y="273" width="5" height="1" fill="#000"/>
<rect x="678" y="322" width="5" height="1" fill="#000"/>
<rect x="679" y="276" width="3" height="42" fill="#f00"/>
<rect x="696" y="289" width="1" height="41" fill="#000"/>
<rect x="694" y="289" width="5" height="1" fill="#000"/>
<rect x="694" y="329" width="5" height="1" fill="#000"/>
<rect x="695" y="290" width="3" height="23" fill="#0f0"/>
<rect x="712" y="266" width="1" height="26" fill="#000"/>
<rect x="710" y="266" width="5" height="1" fill="#000"/>
<rect x="710" y="291" width="5" height="1" fill="#000"/>
<rect x="711" y="276" width="3" height="6" fill="#0f0"/>
<rect x="728" y="258" width="1" height="47" fill="#000"/>
<rect x="726" y="258" width="5" height="1" fill="#000"/>
<rect x="726" y="304" width="5" height="1" fill="#000"/>
<rect x="727" y="268" width="3" height="19" fill="#f00"/>
<rect x="744" y="291" width="1" height="29" fill="#000"/>
<rect x="742" y="291" width="5" height="1" fill="#000"/>
<rect x="742" y="319" width="5" height="1" fill="#000"/>
<rect x="743" y="293" width="3" height="3" fill="#f00"/>
<rect x="760" y="273" width="1" height="57" fill="#000"/>
<rect x="758" y="273" width="5" height="1" fill="#000"/>
<rect x="758" y="329" width="5" height="1" fill="#000"/>
<rect x="759" y="281" width="3" height="39" fill="#0f0"/>
<rect x="776" y="245" width="1" height="50" fill="#000"/>
<rect x="774" y="245" width="5" height="1" fill="#000"/>
<rect x="774" y="294" width="5" height="1" fill="#000"/>
<rect x="775" y="256" width="3" height="18" fill="#0f0"/>
<rect x="792" y="263" width="1" height="32" fill="#000"/>
<rect x="790" y="263" width="5" height="1" fill="#000"/>
<rect x="790" y="294" width="5" height="1" fill="#000"/>
<rect x="791" y="268" width="3" height="14" fill="#f00"/>
<rect x="807" y="243" width="1" height="40" fill="#000"/>
<rect x="805" y="243" width="5" height="1" fill="#000"/>
<rect x="805" y="282" width="5" height="1" fill="#000"/>
<rect x="806" y="256" width="3" height="26" fill="#0f0"/>
<rect x="823" y="240" width="1" height="51" fill="#000"/>
<rect x="821" y="240" width="5" height="1" fill="#000"/>
<rect x="821" y="290" width="5" height="1" fill="#000"/>
<rect x="822" y="245" width="3" height="45" fill="#0f0"/>
<rect x="839" y="240" width="1" height="22" fill="#000"/>
<rect x="837" y="240" width="5" height="1" fill="#000"/>
<rect x="837" y="261" width="5" height="1" fill="#000"/>
<rect x="838" y="243" width="3" height="3" fill="#f00"/>
<rect x="855" y="245" width="1" height="45" fill="#000"/>
<rect x="853" y="245" width="5" height="1" fill="#000"/>
<rect x="853" y="289" width="5" height="1" fill="#000"/>
<rect x="854" y="248" width="3" height="19" fill="#f00"/>
<rect x="871" y="243" width="1" height="34" fill="#000"/>
<rect x="869" y="243" width="5" height="1" fill="#000"/>
<rect x="869" y="276" width="5" height="1" fill="#000"/>
<rect x="870" y="250" width="3" height="19" fill="#0f0"/>
<rect x="887" y="240" width="1" height="24" fill="#000"/>
<rect x="885" y="240" width="5" height="1" fill="#000"/>
<rect x="885" y="263" width="5" height="1" fill="#000"/>
<rect x="886" y="242" width="3" height="12" fill="#0f0"/>
<rect x="903" y="222" width="1" height="37" fill="#000"/>
<rect x="901" y="222" width="5" height="1" fill="#000"/>
<rect x="901" y="258" width="5" height="1" fill="#000"/>
<rect x="902" y="230" width="3" height="16" fill="#0f0"/>
<rect x="919" y="207" width="1" height="29" fill="#000"/>
<rect x="917" y="207" width="5" height="1" fill="#000"/>
<rect x="917" y="235" width="5" height="1" fill="#000"/>
<rect x="918" y="217" width="3" height="4" fill="#0f0"/>
<rect x="935" y="215" width="1" height="16" fill="#000"/>
<rect x="933" y="215" width="5" height="1" fill="#000"/>
<rect x="933" y="230" width="5" height="1" fill="#000"/>
<rect x="934" y="217" width="3" height="6" fill="#f00"/>
<rect x="951" y="212" width="1" height="22" fill="#000"/>
<rect x="949" y="212" width="5" height="1" fill="#000"/>
<rect x="949" y="233" width="5" height="1" fill="#000"/>
<rect x="950" y="215" width="3" height="8" fill="#0f0"/>
<rect x="967" y="161" width="1" height="75" fill="#000"/>
<rect x="965" y="161" width="5" height="1" fill="#000"/>
<rect x="965" y="235" width="5" height="1" fill="#000"/>
<rect x="966" y="215" width="3" height="16" fill="#f00"/>
<rect x="982" y="197" width="1" height="42" fill="#000"/>
<rect x="980" y="197" width="5" height="1" fill="#000"/>
<rect x="980" y="238" width="5" height="1" fill="#000"/>
<rect x="981" y="205" width="3" height="26" fill="#0f0"/>
<rect x="998" y="166" width="1" height="35" fill="#000"/>
<rect x="996" y="166" width="5" height="1" fill="#000"/>
<rect x="996" y="200" width="5" height="1" fill="#000"/>
<rect x="997" y="182" width="3" height="11" fill="#0f0"/>
<rect x="1014" y="179" width="1" height="34" fill="#000"/>
<rect x="1012" y="179" width="5" height="1" fill="#000"/>
<rect x="1012" y="212" width="5" height="1" fill="#000"/>
<rect x="1013" y="182" width="3" height="24" fill="#f00"/>
<rect x="1030" y="182" width="1" height="26" fill="#000"/>
<rect x="1028" y="182" width="5" height="1" fill="#000"/>
<rect x="1028" y="207" width="5" height="1" fill="#000"/>
<rect x="1029" y="191" width="3" height="3" fill="#f00"/>
<rect x="1046" y="182" width="1" height="54" fill="#000"/>
<rect x="1044" y="182" width="5" height="1" fill="#000"/>
<rect x="1044" y="235" width="5" height="1" fill="#000"/>
<rect x="1045" y="202" width="3" height="16" fill="#f00"/>
<rect x="1062" y="210" width="1" height="39" fill="#000"/>
<rect x="1060" y="210" width="5" height="1" fill="#000"/>
<rect x="1060" y="248" width="5" height="1" fill="#000"/>
<rect x="1061" y="217" width="3" height="12" fill="#f00"/>
<rect x="1078" y="210" width="1" height="54" fill="#000"/>
<rect x="1076" y="210" width="5" height="1" fill="#000"/>
<rect x="1076" y="263" width="5" height="1" fill="#000"/>
<rect x="1077" y="217" width="3" height="29" fill="#f00"/>
<rect x="1094" y="187" width="1" height="57" fill="#000"/>
<rect x="1092" y="187" width="5" height="1" fill="#000"/>
<rect x="1092" y="243" width="5" height="1" fill="#000"/>
<rect x="1093" y="188" width="3" height="54" fill="#0f0"/>
<rect x="1110" y="179" width="1" height="24" fill="#000"/>
<rect x="1108" y="179" width="5" height="1" fill="#000"/>
<rect x="1108" y="202" width="5" height="1" fill="#000"/>
<rect x="1109" y="184" width="3" height="11" fill="#f00"/>
<rect x="1126" y="103" width="1" height="80" fill="#000"/>
<rect x="1124" y="103" width="5" height="1" fill="#000"/>
<rect x="1124" y="182" width="5" height="1" fill="#000"/>
<rect x="1125" y="113" width="3" height="67" fill="#0f0"/>
<rect x="1142" y="103" width="1" height="36" fill="#000"/>
<rect x="1140" y="103" width="5" height="1" fill="#000"/>
<rect x="1140" y="138" width="5" height="1" fill="#000"/>
<rect x="1141" y="113" width="3" height="16" fill="#f00"/>
</g>
<rect x="551" y="51" width="6" height="6" fill="#000" fill-opacity="0.13"/>
<rect x="550" y="50" width="6" height="6" fill="#d2646a"/>
<text class="l" x="560.6" y="56.0" textLength="54.0" lengthAdjust="spacing">Support 1</text>
<rect x="620" y="51" width="6" height="6" fill="#000" fill-opacity="0.13"/>
<rect x="619" y="50" width="6" height="6" fill="#c3737a"/>
<text class="l" x="629.6" y="56.0" textLength="54.6" lengthAdjust="spacing">Support 2</text>
<rect x="690" y="51" width="6" height="6" fill="#000" fill-opacity="0.13"/>
<rect x="689" y="50" width="6" height="6" fill="#a5737a"/>
<text class="l" x="699" y="56.0" textLength="54.0" lengthAdjust="spacing">Support 3</text>
<rect x="758" y="51" width="6" height="6" fill="#000" fill-opacity="0.13"/>
<rect x="757" y="50" width="6" height="6" fill="#64d264"/>
<text class="l" x="767.5" y="57.6" textLength="70.5" lengthAdjust="spacing">Résistance 1</text>
<rect x="843" y="51" width="6" height="6" fill="#000" fill-opacity="0.13"/>
<rect x="842" y="50" width="6" height="6" fill="#64b464"/>
<text class="l" x="852.5" y="57.6" textLength="70.5" lengthAdjust="spacing">Résistance 2</text>
<rect x="928" y="51" width="6" height="6" fill="#000" fill-opacity="0.13"/>
<rect x="927" y="50" width="6" height="6" fill="#6868f8"/>
<text class="l" x="937.8" y="56.0" textLength="30.0" lengthAdjust="spacing">MM20</text>
<rect x="973" y="51" width="6" height="6" fill="#000" fill-opacity="0.13"/>
<rect x="972" y="50" width="6" height="6" fill="#b068f8"/>
<text class="l" x="982.8" y="56.0" textLength="30.0" lengthAdjust="spacing">MM50</text>
<rect x="1018" y="51" width="6" height="6" fill="#000" fill-opacity="0.13"/>
<rect x="1017" y="50" width="6" height="6" fill="#f868f8"/>
<text class="l" x="1027.8" y="56.0" textLength="37.0" lengthAdjust="spacing">MM100</text>
<g shape-rendering="crispEdges">
<rect x="101" y="851" width="1050" height="25" fill="#f9f9f9"/>
<rect x="101" y="801" width="1050" height="25" fill="#f9f9f9"/>
<rect x="101" y="751" width="1050" height="25" fill="#f9f9f9"/>
<line x1="107.5" y1="724" x2="107.5" y2="900" stroke="#e5e5e5" stroke-dasharray="4 4"/>
<line x1="123.5" y1="724" x2="123.5" y2="900" stroke="#000" stroke-opacity="0.024" stroke-dasharray="6 6"/>
<line x1="139.5" y1="724" x2="139.5" y2="900" stroke="#000" stroke-opacity="0.024" stroke-dasharray="6 6"/>
<line x1="155.5" y1="724" x2="155.5" y2="900" stroke="#000" stroke-opacity="0.024" stroke-dasharray="6 6"/>
<line x1="171.5" y1="724" x2="171.5" y2="900" stroke="#000" stroke-opacity="0.024" stroke-dasharray="6 6"/>
<line x1="187.5" y1="724" x2="187.5" y2="900" stroke="#e5e5e5" stroke-dasharray="4 4"/>
<line x1="203.5" y1="724" x2="203.5" y2="900" stroke="#000" stroke-opacity="0.024" stroke-dasharray="6 6"/>
<line x1="219.5" y1="724" x2="219.5" y2="900" stroke="#000" stroke-opacity="0.024" stroke-dasharray="6 6"/>
<line x1="235.5" y1="724" x2="235.5" y2="900" stroke="#000" stroke-opacity="0.024" stroke-dasharray="6 6"/>
<line x1="251.5" y1="724" x2="251.5" y2="900" stroke="#000" stroke-opacity="0.024" stroke-dasharray="6 6"/>
<line x1="267.5" y1="724" x2="267.5" y2="900" stroke="#e5e5e5" stroke-dasharray="4 4"/>
<line x1="282.5" y1="724" x2="282.5" y2="900" stroke="#000" stroke-opacity="0.024" stroke-dasharray="6 6"/>
<line x1="298.5" y1="724" x2="298.5" y2="900" stroke="#000" stroke-opacity="0.024" stroke-dasharray="6 6"/>
<line x1="314.5" y1="724" x2="314.5" y2="900" stroke="#000" stroke-opacity="0.024" stroke-dasharray="6 6"/>
<line x1="330.5" y1="724" x2="330.5" y2="900" stroke="#000" stroke-opacity="0.024" stroke-dasharray="6 6"/>
<line x1="346.5" y1="724" x2="346.5" y2="900" stroke="#e5e5e5" stroke-dasharray="4 4"/>
<line x1="362.5" y1="724" x2="362.5" y2="900" stroke="#000" stroke-opacity="0.024" stroke-dasharray="6 6"/>
<line x1="378.5" y1="724" x2="378.5" y2="900" stroke="#000" stroke-opacity="0.024" stroke-dasharray="6 6"/>
<line x1="394.5" y1="724" x2="394.5" y2="900" stroke="#000" stroke-opacity="0.024" stroke-dasharray="6 6"/>
<line x1="410.5" y1="724" x2="410.5" y2="900" stroke="#000" stroke-opacity="0.024" stroke-dasharray="6 6"/>
<line x1="426.5" y1="724" x2="426.5" y2="900" stroke="#e5e5e5" stroke-dasharray="4 4"/>
<line x1="442.5" y1="724" x2="442.5" y2="900" stroke="#000" stroke-opacity="0.024" stroke-dasharray="6 6"/>
<line x1="457.5" y1="724" x2="457.5" y2="900" stroke="#000" stroke-opacity="0.024" stroke-dasharray="6 6"/>
<line x1="473.5" y1="724" x2="473.5" y2="900" stroke="#000" stroke-opacity="0.024" stroke-dasharray="6 6"/>
<line x1="489.5" y1="724" x2="489.5" y2="900" stroke="#000" stroke-opacity="0.024" stroke-dasharray="6 6"/>
<line x1="505.5" y1="724" x2="505.5" y2="900" stroke="#e5e5e5" stroke-dasharray="4 4"/>
<line x1="521.5" y1="724" x2="521.5" y2="900" stroke="#000" stroke-opacity="0.024" stroke-dasharray="6 6"/>
<line x1="537.5" y1="724" x2="537.5" y2="900" stroke="#000" stroke-opacity="0.024" stroke-dasharray="6 6"/>
<line x1="553.5" y1="724" x2="553.5" y2="900" stroke="#000" stroke-opacity="0.024" stroke-dasharray="6 6"/>
<line x1="569.5" y1="724" x2="569.5" y2="900" stroke="#000" stroke-opacity="0.024" stroke-dasharray="6 6"/>
<line x1="585.5" y1="724" x2="585.5" y2="900" stroke="#e5e5e5" stroke-dasharray="4 4"/>
<line x1="601.5" y1="724" x2="601.5" y2="900" stroke="#000" stroke-opacity="0.024" stroke-dasharray="6 6"/>
<line x1="617.5" y1="724" x2="617.5" y2="900" stroke="#000" stroke-opacity="0.024" stroke-dasharray="6 6"/>
<line x1="632.5" y1="724" x2="632.5" y2="900" stroke="#000" stroke-opacity="0.024" stroke-dasharray="6 6"/>
<line x1="648.5" y1="724" x2="648.5" y2="900" stroke="#000" stroke-opacity="0.024" stroke-dasharray="6 6"/>
<line x1="664.5" y1="724" x2="664.5" y2="900" stroke="#e5e5e5" stroke-dasharray="4 4"/>
<line x1="680.5" y1="724" x2="680.5" y2="900" stroke="#000" stroke-opacity="0.024" stroke-dasharray="6 6"/>
<line x1="696.5" y1="724" x2="696.5" y2="900" stroke="#000" stroke-opacity="0.024" stroke-dasharray="6 6"/>
<line x1="712.5" y1="724" x2="712.5" y2="900" stroke="#000" stroke-opacity="0.024" stroke-dasharray="6 6"/>
<line x1="728.5" y1="724" x2="728.5" y2="900" stroke="#000" stroke-opacity="0.024" stroke-dasharray="6 6"/>
<line x1="744.5" y1="724" x2="744.5" y2="900" stroke="#e5e5e5" stroke-dasharray="4 4"/>
<line x1="760.5" y1="724" x2="760.5" y2="900" stroke="#000" stroke-opacity="0.024" stroke-dasharray="6 6"/>
<line x1="776.5" y1="724" x2="776.5" y2="900" stroke="#000" stroke-opacity="0.024" stroke-dasharray="6 6"/>
<line x1="792.5" y1="724" x2="792.5" y2="900" stroke="#000" stroke-opacity="0.024" stroke-dasharray="6 6"/>
<line x1="807.5" y1="724" x2="807.5" y2="900" stroke="#000" stroke-opacity="0.024" stroke-dasharray="6 6"/>
<line x1="823.5" y1="724" x2="823.5" y2="900" stroke="#e5e5e5" stroke-dasharray="4 4"/>
<line x1="839.5" y1="724" x2="839.5" y2="900" stroke="#000" stroke-opacity="0.024" stroke-dasharray="6 6"/>
<line x1="855.5" y1="724" x2="855.5" y2="900" stroke="#000" stroke-opacity="0.024" stroke-dasharray="6 6"/>
<line x1="871.5" y1="724" x2="871.5" y2="900" stroke="#000" stroke-opacity="0.024" stroke-dasharray="6 6"/>
<line x1="887.5" y1="724" x2="887.5" y2="900" stroke="#000" stroke-opacity="0.024" stroke-dasharray="6 6"/>
<line x1="903.5" y1="724" x2="903.5" y2="900" stroke="#e5e5e5" stroke-dasharray="4 4"/>
<line x1="919.5" y1="724" x2="919.5" y2="900" stroke="#000" stroke-opacity="0.024" stroke-dasharray="6 6"/>
<line x1="935.5" y1="724" x2="935.5" y2="900" stroke="#000" stroke-opacity="0.024" stroke-dasharray="6 6"/>
<line x1="951.5" y1="724" x2="951.5" y2="900" stroke="#000" stroke-opacity="0.024" stroke-dasharray="6 6"/>
<line x1="967.5" y1="724" x2="967.5" y2="900" stroke="#000" stroke-opacity="0.024" stroke-dasharray="6 6"/>
<line x1="982.5" y1="724" x2="982.5" y2="900" stroke="#e5e5e5" stroke-dasharray="4 4"/>
<line x1="998.5" y1="724" x2="998.5" y2="900" stroke="#000" stroke-opacity="0.024" stroke-dasharray="6 6"/>
<line x1="1014.5" y1="724" x2="1014.5" y2="900" stroke="#000" stroke-opacity="0.024" stroke-dasharray="6 6"/>
<line x1="1030.5" y1="724" x2="1030.5" y2="900" stroke="#000" stroke-opacity="0.024" stroke-dasharray="6 6"/>
<line x1="1046.5" y1="724" x2="1046.5" y2="900" stroke="#000" stroke-opacity="0.024" stroke-dasharray="6 6"/>
<line x1="1062.5" y1="724" x2="1062.5" y2="900" stroke="#e5e5e5" stroke-dasharray="4 4"/>
<line x1="1078.5" y1="724" x2="1078.5" y2="900" stroke="#000" stroke-opacity="0.024" stroke-dasharray="6 6"/>
<line x1="1094.5" y1="724" x2="1094.5" y2="900" stroke="#000" stroke-opacity="0.024" stroke-dasharray="6 6"/>
<line x1="1110.5" y1="724" x2="1110.5" y2="900" stroke="#000" stroke-opacity="0.024" stroke-dasharray="6 6"/>
<line x1="1126.5" y1="724" x2="1126.5" y2="900" stroke="#000" stroke-opacity="0.024" stroke-dasharray="6 6"/>
<line x1="1142.5" y1="724" x2="1142.5" y2="900" stroke="#e5e5e5" stroke-dasharray="4 4"/>
<line x1="107" y1="875.5" x2="1151" y2="875.5" stroke="#e5e5e5" stroke-dasharray="4 4"/>
<line x1="107" y1="850.5" x2="1151" y2="850.5" stroke="#e5e5e5" stroke-dasharray="4 4"/>
<line x1="107" y1="825.5" x2="1151" y2="825.5" stroke="#e5e5e5" stroke-dasharray="4 4"/>
<line x1="107" y1="800.5" x2="1151" y2="800.5" stroke="#e5e5e5" stroke-dasharray="4 4"/>
<line x1="107" y1="775.5" x2="1151" y2="775.5" stroke="#e5e5e5" stroke-dasharray="4 4"/>
<line x1="107" y1="750.5" x2="1151" y2="750.5" stroke="#e5e5e5" stroke-dasharray="4 4"/>
<line x1="107" y1="725.5" x2="1151" y2="725.5" stroke="#e5e5e5" stroke-dasharray="4 4"/>
<line x1="100.5" y1="719" x2="100.5" y2="901" stroke="#000"/>
<line x1="100" y1="900.5" x2="1157" y2="900.5" stroke="#000"/>
<line x1="98" y1="900.5" x2="103" y2="900.5" stroke="#000"/>
<line x1="98" y1="887.5" x2="101" y2="887.5" stroke="#f00"/>
<line x1="98" y1="875.5" x2="103" y2="875.5" stroke="#000"/>
<line x1="98" y1="862.5" x2="101" y2="862.5" stroke="#f00"/>
<line x1="98" y1="850.5" x2="103" y2="850.5" stroke="#000"/>
<line x1="98" y1="837.5" x2="101" y2="837.5" stroke="#f00"/>
<line x1="98" y1="825.5" x2="103" y2="825.5" stroke="#000"/>
<line x1="98" y1="812.5" x2="101" y2="812.5" stroke="#f00"/>
<line x1="98" y1="800.5" x2="103" y2="800.5" stroke="#000"/>
<line x1="98" y1="787.5" x2="101" y2="787.5" stroke="#f00"/>
<line x1="98" y1="775.5" x2="103" y2="775.5" stroke="#000"/>
<line x1="98" y1="762.5" x2="101" y2="762.5" stroke="#f00"/>
<line x1="98" y1="750.5" x2="103" y2="750.5" stroke="#000"/>
<line x1="98" y1="737.5" x2="101" y2="737.5" stroke="#f00"/>
<line x1="98" y1="725.5" x2="103" y2="725.5" stroke="#000"/>
<line x1="107.5" y1="898" x2="107.5" y2="903" stroke="#000"/>
<line x1="123.5" y1="901" x2="123.5" y2="903" stroke="#e0e0e0"/>
<line x1="139.5" y1="901" x2="139.5" y2="903" stroke="#e0e0e0"/>
<line x1="155.5" y1="901" x2="155.5" y2="903" stroke="#e0e0e0"/>
<line x1="171.5" y1="901" x2="171.5" y2="903" stroke="#e0e0e0"/>
<line x1="187.5" y1="898" x2="187.5" y2="903" stroke="#000"/>
<line x1="203.5" y1="901" x2="203.5" y2="903" stroke="#e0e0e0"/>
<line x1="219.5" y1="901" x2="219.5" y2="903" stroke="#e0e0e0"/>
<line x1="235.5" y1="901" x2="235.5" y2="903" stroke="#e0e0e0"/>
<line x1="251.5" y1="901" x2="251.5" y2="903" stroke="#e0e0e0"/>
<line x1="267.5" y1="898" x2="267.5" y2="903" stroke="#000"/>
<line x1="282.5" y1="901" x2="282.5" y2="903" stroke="#e0e0e0"/>
<line x1="298.5" y1="901" x2="298.5" y2="903" stroke="#e0e0e0"/>
<line x1="314.5" y1="901" x2="314.5" y2="903" stroke="#e0e0e0"/>
<line x1="330.5" y1="901" x2="330.5" y2="903" stroke="#e0e0e0"/>
<line x1="346.5" y1="898" x2="346.5" y2="903" stroke="#000"/>
<line x1="362.5" y1="901" x2="362.5" y2="903" stroke="#e0e0e0"/>
<line x1="378.5" y1="901" x2="378.5" y2="903" stroke="#e0e0e0"/>
<line x1="394.5" y1="901" x2="394.5" y2="903" stroke="#e0e0e0"/>
<line x1="410.5" y1="901" x2="410.5" y2="903" stroke="#e0e0e0"/>
<line x1="426.5" y1="898" x2="426.5" y2="903" stroke="#000"/>
<line x1="442.5" y1="901" x2="442.5" y2="903" stroke="#e0e0e0"/>
<line x1="457.5" y1="901" x2="457.5" y2="903" stroke="#e0e0e0"/>
<line x1="473.5" y1="901" x2="473.5" y2="903" stroke="#e0e0e0"/>
<line x1="489.5" y1="901" x2="489.5" y2="903" stroke="#e0e0e0"/>
<line x1="505.5" y1="898" x2="505.5" y2="903" stroke="#000"/>
<line x1="521.5" y1="901" x2="521.5" y2="903" stroke="#e0e0e0"/>
<line x1="537.5" y1="901" x2="537.5" y2="903" stroke="#e0e0e0"/>
<line x1="553.5" y1="901" x2="553.5" y2="903" stroke="#e0e0e0"/>
<line x1="569.5" y1="901" x2="569.5" y2="903" stroke="#e0e0e0"/>
<line x1="585.5" y1="898" x2="585.5" y2="903" stroke="#000"/>
<line x1="601.5" y1="901" x2="601.5" y2="903" stroke="#e0e0e0"/>
<line x1="617.5" y1="901" x2="617.5" y2="903" stroke="#e0e0e0"/>
<line x1="632.5" y1="901" x2="632.5" y2="903" stroke="#e0e0e0"/>
<line x1="648.5" y1="901" x2="648.5" y2="903" stroke="#e0e0e0"/>
<line x1="664.5" y1="898" x2="664.5" y2="903" stroke="#000"/>
<line x1="680.5" y1="901" x2="680.5" y2="903" stroke="#e0e0e0"/>
<line x1="696.5" y1="901" x2="696.5" y2="903" stroke="#e0e0e0"/>
<line x1="712.5" y1="901" x2="712.5" y2="903" stroke="#e0e0e0"/>
<line x1="728.5" y1="901" x2="728.5" y2="903" stroke="#e0e0e0"/>
<line x1="744.5" y1="898" x2="744.5" y2="903" stroke="#000"/>
<line x1="760.5" y1="901" x2="760.5" y2="903" stroke="#e0e0e0"/>
<line x1="776.5" y1="901" x2="776.5" y2="903" stroke="#e0e0e0"/>
<line x1="792.5" y1="901" x2="792.5" y2="903" stroke="#e0e0e0"/>
<line x1="807.5" y1="901" x2="807.5" y2="903" stroke="#e0e0e0"/>
<line x1="823.5" y1="898" x2="823.5" y2="903" stroke="#000"/>
<line x1="839.5" y1="901" x2="839.5" y2="903" stroke="#e0e0e0"/>
<line x1="855.5" y1="901" x2="855.5" y2="903" stroke="#e0e0e0"/>
<line x1="871.5" y1="901" x2="871.5" y2="903" stroke="#e0e0e0"/>
<line x1="887.5" y1="901" x2="887.5" y2="903" stroke="#e0e0e0"/>
<line x1="903.5" y1="898" x2="903.5" y2="903" stroke="#000"/>
<line x1="919.5" y1="901" x2="919.5" y2="903" stroke="#e0e0e0"/>
<line x1="935.5" y1="901" x2="935.5" y2="903" stroke="#e0e0e0"/>
<line x1="951.5" y1="901" x2="951.5" y2="903" stroke="#e0e0e0"/>
<line x1="967.5" y1="901" x2="967.5" y2="903" stroke="#e0e0e0"/>
<line x1="982.5" y1="898" x2="982.5" y2="903" stroke="#000"/>
<line x1="998.5" y1="901" x2="998.5" y2="903" stroke="#e0e0e0"/>
<line x1="1014.5" y1="901" x2="1014.5" y2="903" stroke="#e0e0e0"/>
<line x1="1030.5" y1="901" x2="1030.5" y2="903" stroke="#e0e0e0"/>
<line x1="1046.5" y1="901" x2="1046.5" y2="903" stroke="#e0e0e0"/>
<line x1="1062.5" y1="898" x2="1062.5" y2="903" stroke="#000"/>
<line x1="1078.5" y1="901" x2="1078.5" y2="903" stroke="#e0e0e0"/>
<line x1="1094.5" y1="901" x2="1094.5" y2="903" stroke="#e0e0e0"/>
<line x1="1110.5" y1="901" x2="1110.5" y2="903" stroke="#e0e0e0"/>
<line x1="1126.5" y1="901" x2="1126.5" y2="903" stroke="#e0e0e0"/>
<line x1="1142.5" y1="898" x2="1142.5" y2="903" stroke="#000"/>
</g>
<polygon points="100.5,712.5 96.8,720 104.2,720" fill="#000"/>
<polygon points="1163.5,900.5 1155,896.7 1155,904.3" fill="#000"/>
<text class="l" x="98.2" y="904.7" text-anchor="end" textLength="23.8" lengthAdjust="spacing">0.00</text>
<text class="l" x="98.2" y="878.7" text-anchor="end" textLength="62.9" lengthAdjust="spacing">500,000.00</text>
<text class="l" x="98.2" y="853.7" text-anchor="end" textLength="73.4" lengthAdjust="spacing">1,000,000.00</text>
<text class="l" x="98.2" y="828.7" text-anchor="end" textLength="73.4" lengthAdjust="spacing">1,500,000.00</text>
<text class="l" x="98.2" y="803.7" text-anchor="end" textLength="73.4" lengthAdjust="spacing">2,000,000.00</text>
<text class="l" x="98.2" y="778.7" text-anchor="end" textLength="73.4" lengthAdjust="spacing">2,500,000.00</text>
<text class="l" x="98.2" y="753.7" text-anchor="end" textLength="73.4" lengthAdjust="spacing">3,000,000.00</text>
<text class="l" x="98.2" y="728.7" text-anchor="end" textLength="73.4" lengthAdjust="spacing">3,500,000.00</text>
<text class="l" x="109" y="913" text-anchor="middle" textLength="42.9" lengthAdjust="spacing">18 Sept</text>
<text class="l" x="189" y="913" text-anchor="middle" textLength="42.9" lengthAdjust="spacing">25 Sept</text>
<text class="l" x="269" y="913" text-anchor="middle" textLength="29.8" lengthAdjust="spacing">2 Oct</text>
<text class="l" x="348" y="913" text-anchor="middle" textLength="29.8" lengthAdjust="spacing">9 Oct</text>
<text class="l" x="428" y="913" text-anchor="middle" textLength="36.8" lengthAdjust="spacing">16 Oct</text>
<text class="l" x="507" y="913" text-anchor="middle" textLength="36.8" lengthAdjust="spacing">23 Oct</text>
<text class="l" x="587" y="913" text-anchor="middle" textLength="36.8" lengthAdjust="spacing">30 Oct</text>
<text class="l" x="666" y="913" text-anchor="middle" textLength="32.2" lengthAdjust="spacing">6 Nov</text>
<text class="l" x="746" y="913" text-anchor="middle" textLength="39.3" lengthAdjust="spacing">13 Nov</text>
<text class="l" x="825" y="913" text-anchor="middle" textLength="39.3" lengthAdjust="spacing">20 Nov</text>
<text class="l" x="905" y="913" text-anchor="middle" textLength="39.3" lengthAdjust="spacing">27 Nov</text>
<text class="l" x="984" y="913" text-anchor="middle" textLength="32.1" lengthAdjust="spacing">4 Déc</text>
<text class="l" x="1064" y="913" text-anchor="middle" textLength="39.1" lengthAdjust="spacing">11 Déc</text>
<text class="l" x="1144" y="913" text-anchor="middle" textLength="39.1" lengthAdjust="spacing">18 Déc</text>
<text class="l" x="626.5" y="926.6" text-anchor="middle" textLength="302" lengthAdjust="spacing">Date (du 18 Septembre 2015 au 18 Décembre 2015)</text>
<text class="t" y="694.6" xml:space="preserve"><tspan x="111.4">Technicolor: </tspan><tspan x="264.4" letter-spacing="-0.35">graphique </tspan><tspan x="392.0">du </tspan><tspan x="430.0">volume </tspan><tspan x="526.5">- </tspan><tspan x="544.8" letter-spacing="-0.12">AnalyBourse.com</tspan></text>
<text class="l" transform="translate(21.7,810.5) rotate(-90)" text-anchor="middle" textLength="40.7" lengthAdjust="spacing">Volume</text>
<g shape-rendering="crispEdges">
<rect x="102" y="739" width="12" height="161" fill="rgba(255,62,62,0.85)"/>
<rect x="118" y="817" width="12" height="83" fill="rgba(62,255,62,0.85)"/>
<rect x="134" y="813" width="12" height="87" fill="rgba(255,62,62,0.85)"/>
<rect x="150" y="860" width="11" height="40" fill="rgba(255,62,62,0.85)"/>
<rect x="166" y="845" width="11" height="55" fill="rgba(255,62,62,0.85)"/>
<rect x="182" y="875" width="11" height="25" fill="rgba(62,255,62,0.85)"/>
<rect x="198" y="866" width="11" height="34" fill="rgba(255,62,62,0.85)"/>
<rect x="214" y="837" width="11" height="63" fill="rgba(62,255,62,0.85)"/>
<rect x="229" y="852" width="12" height="48" fill="rgba(62,255,62,0.85)"/>
<rect x="245" y="862" width="12" height="38" fill="rgba(255,62,62,0.85)"/>
<rect x="261" y="845" width="12" height="55" fill="rgba(62,255,62,0.85)"/>
<rect x="277" y="869" width="12" height="31" fill="rgba(62,255,62,0.85)"/>
<rect x="293" y="874" width="12" height="26" fill="rgba(62,255,62,0.85)"/>
<rect x="309" y="860" width="12" height="40" fill="rgba(255,62,62,0.85)"/>
<rect x="325" y="869" width="11" height="31" fill="rgba(255,62,62,0.85)"/>
<rect x="341" y="850" width="11" height="50" fill="rgba(255,62,62,0.85)"/>
<rect x="357" y="881" width="11" height="19" fill="rgba(255,62,62,0.85)"/>
<rect x="373" y="877" width="11" height="23" fill="rgba(62,255,62,0.85)"/>
<rect x="389" y="880" width="11" height="20" fill="rgba(255,62,62,0.85)"/>
<rect x="404" y="864" width="12" height="36" fill="rgba(62,255,62,0.85)"/>
<rect x="420" y="852" width="12" height="48" fill="rgba(255,62,62,0.85)"/>
<rect x="436" y="878" width="12" height="22" fill="rgba(62,255,62,0.85)"/>
<rect x="452" y="854" width="12" height="46" fill="rgba(62,255,62,0.85)"/>
<rect x="468" y="814" width="12" height="86" fill="rgba(62,255,62,0.85)"/>
<rect x="484" y="762" width="12" height="138" fill="rgba(255,62,62,0.85)"/>
<rect x="500" y="794" width="11" height="106" fill="rgba(255,62,62,0.85)"/>
<rect x="516" y="775" width="11" height="125" fill="rgba(62,255,62,0.85)"/>
<rect x="532" y="765" width="11" height="135" fill="rgba(255,62,62,0.85)"/>
<rect x="548" y="807" width="11" height="93" fill="rgba(62,255,62,0.85)"/>
<rect x="564" y="775" width="11" height="125" fill="rgba(255,62,62,0.85)"/>
<rect x="579" y="810" width="12" height="90" fill="rgba(255,62,62,0.85)"/>
<rect x="595" y="794" width="12" height="106" fill="rgba(62,255,62,0.85)"/>
<rect x="611" y="798" width="12" height="102" fill="rgba(62,255,62,0.85)"/>
<rect x="627" y="830" width="12" height="70" fill="rgba(62,255,62,0.85)"/>
<rect x="643" y="854" width="12" height="46" fill="rgba(255,62,62,0.85)"/>
<rect x="659" y="847" width="12" height="53" fill="rgba(62,255,62,0.85)"/>
<rect x="675" y="863" width="11" height="37" fill="rgba(255,62,62,0.85)"/>
<rect x="691" y="852" width="11" height="48" fill="rgba(62,255,62,0.85)"/>
<rect x="707" y="869" width="11" height="31" fill="rgba(62,255,62,0.85)"/>
<rect x="723" y="863" width="11" height="37" fill="rgba(255,62,62,0.85)"/>
<rect x="739" y="867" width="11" height="33" fill="rgba(62,255,62,0.85)"/>
<rect x="754" y="875" width="12" height="25" fill="rgba(62,255,62,0.85)"/>
<rect x="770" y="867" width="12" height="33" fill="rgba(62,255,62,0.85)"/>
<rect x="786" y="877" width="12" height="23" fill="rgba(255,62,62,0.85)"/>
<rect x="802" y="853" width="12" height="47" fill="rgba(62,255,62,0.85)"/>
<rect x="818" y="855" width="12" height="45" fill="rgba(62,255,62,0.85)"/>
<rect x="834" y="876" width="12" height="24" fill="rgba(255,62,62,0.85)"/>
<rect x="850" y="870" width="11" height="30" fill="rgba(255,62,62,0.85)"/>
<rect x="866" y="868" width="11" height="32" fill="rgba(62,255,62,0.85)"/>
<rect x="882" y="873" width="11" height="27" fill="rgba(62,255,62,0.85)"/>
<rect x="898" y="870" width="11" height="30" fill="rgba(62,255,62,0.85)"/>
<rect x="914" y="858" width="11" height="42" fill="rgba(62,255,62,0.85)"/>
<rect x="929" y="876" width="12" height="24" fill="rgba(255,62,62,0.85)"/>
<rect x="945" y="871" width="12" height="29" fill="rgba(62,255,62,0.85)"/>
<rect x="961" y="848" width="12" height="52" fill="rgba(255,62,62,0.85)"/>
<rect x="977" y="863" width="12" height="37" fill="rgba(62,255,62,0.85)"/>
<rect x="993" y="869" width="12" height="31" fill="rgba(62,255,62,0.85)"/>
<rect x="1009" y="872" width="12" height="28" fill="rgba(255,62,62,0.85)"/>
<rect x="1025" y="871" width="11" height="29" fill="rgba(62,255,62,0.85)"/>
<rect x="1041" y="865" width="11" height="35" fill="rgba(255,62,62,0.85)"/>
<rect x="1057" y="863" width="11" height="37" fill="rgba(255,62,62,0.85)"/>
<rect x="1073" y="845" width="11" height="55" fill="rgba(255,62,62,0.85)"/>
<rect x="1089" y="862" width="11" height="38" fill="rgba(62,255,62,0.85)"/>
<rect x="1104" y="864" width="12" height="36" fill="rgba(255,62,62,0.85)"/>
<rect x="1120" y="802" width="12" height="98" fill="rgba(62,255,62,0.85)"/>
<rect x="1136" y="849" width="12" height="51" fill="rgba(255,62,62,0.85)"/>
</g>
<g shape-rendering="crispEdges">
<rect x="101" y="1131" width="1050" height="35" fill="#f9f9f9"/>
<rect x="101" y="1061" width="1050" height="35" fill="#f9f9f9"/>
<line x1="107.5" y1="1024" x2="107.5" y2="1200" stroke="#e5e5e5" stroke-dasharray="4 4"/>
<line x1="123.5" y1="1024" x2="123.5" y2="1200" stroke="#000" stroke-opacity="0.024" stroke-dasharray="6 6"/>
<line x1="139.5" y1="1024" x2="139.5" y2="1200" stroke="#000" stroke-opacity="0.024" stroke-dasharray="6 6"/>
<line x1="155.5" y1="1024" x2="155.5" y2="1200" stroke="#000" stroke-opacity="0.024" stroke-dasharray="6 6"/>
<line x1="171.5" y1="1024" x2="171.5" y2="1200" stroke="#000" stroke-opacity="0.024" stroke-dasharray="6 6"/>
<line x1="187.5" y1="1024" x2="187.5" y2="1200" stroke="#e5e5e5" stroke-dasharray="4 4"/>
<line x1="203.5" y1="1024" x2="203.5" y2="1200" stroke="#000" stroke-opacity="0.024" stroke-dasharray="6 6"/>
<line x1="219.5" y1="1024" x2="219.5" y2="1200" stroke="#000" stroke-opacity="0.024" stroke-dasharray="6 6"/>
<line x1="235.5" y1="1024" x2="235.5" y2="1200" stroke="#000" stroke-opacity="0.024" stroke-dasharray="6 6"/>
<line x1="251.5" y1="1024" x2="251.5" y2="1200" stroke="#000" stroke-opacity="0.024" stroke-dasharray="6 6"/>
<line x1="267.5" y1="1024" x2="267.5" y2="1200" stroke="#e5e5e5" stroke-dasharray="4 4"/>
<line x1="282.5" y1="1024" x2="282.5" y2="1200" stroke="#000" stroke-opacity="0.024" stroke-dasharray="6 6"/>
<line x1="298.5" y1="1024" x2="298.5" y2="1200" stroke="#000" stroke-opacity="0.024" stroke-dasharray="6 6"/>
<line x1="314.5" y1="1024" x2="314.5" y2="1200" stroke="#000" stroke-opacity="0.024" stroke-dasharray="6 6"/>
<line x1="330.5" y1="1024" x2="330.5" y2="1200" stroke="#000" stroke-opacity="0.024" stroke-dasharray="6 6"/>
<line x1="346.5" y1="1024" x2="346.5" y2="1200" stroke="#e5e5e5" stroke-dasharray="4 4"/>
<line x1="362.5" y1="1024" x2="362.5" y2="1200" stroke="#000" stroke-opacity="0.024" stroke-dasharray="6 6"/>
<line x1="378.5" y1="1024" x2="378.5" y2="1200" stroke="#000" stroke-opacity="0.024" stroke-dasharray="6 6"/>
<line x1="394.5" y1="1024" x2="394.5" y2="1200" stroke="#000" stroke-opacity="0.024" stroke-dasharray="6 6"/>
<line x1="410.5" y1="1024" x2="410.5" y2="1200" stroke="#000" stroke-opacity="0.024" stroke-dasharray="6 6"/>
<line x1="426.5" y1="1024" x2="426.5" y2="1200" stroke="#e5e5e5" stroke-dasharray="4 4"/>
<line x1="442.5" y1="1024" x2="442.5" y2="1200" stroke="#000" stroke-opacity="0.024" stroke-dasharray="6 6"/>
<line x1="457.5" y1="1024" x2="457.5" y2="1200" stroke="#000" stroke-opacity="0.024" stroke-dasharray="6 6"/>
<line x1="473.5" y1="1024" x2="473.5" y2="1200" stroke="#000" stroke-opacity="0.024" stroke-dasharray="6 6"/>
<line x1="489.5" y1="1024" x2="489.5" y2="1200" stroke="#000" stroke-opacity="0.024" stroke-dasharray="6 6"/>
<line x1="505.5" y1="1024" x2="505.5" y2="1200" stroke="#e5e5e5" stroke-dasharray="4 4"/>
<line x1="521.5" y1="1024" x2="521.5" y2="1200" stroke="#000" stroke-opacity="0.024" stroke-dasharray="6 6"/>
<line x1="537.5" y1="1024" x2="537.5" y2="1200" stroke="#000" stroke-opacity="0.024" stroke-dasharray="6 6"/>
<line x1="553.5" y1="1024" x2="553.5" y2="1200" stroke="#000" stroke-opacity="0.024" stroke-dasharray="6 6"/>
<line x1="569.5" y1="1024" x2="569.5" y2="1200" stroke="#000" stroke-opacity="0.024" stroke-dasharray="6 6"/>
<line x1="585.5" y1="1024" x2="585.5" y2="1200" stroke="#e5e5e5" stroke-dasharray="4 4"/>
<line x1="601.5" y1="1024" x2="601.5" y2="1200" stroke="#000" stroke-opacity="0.024" stroke-dasharray="6 6"/>
<line x1="617.5" y1="1024" x2="617.5" y2="1200" stroke="#000" stroke-opacity="0.024" stroke-dasharray="6 6"/>
<line x1="632.5" y1="1024" x2="632.5" y2="1200" stroke="#000" stroke-opacity="0.024" stroke-dasharray="6 6"/>
<line x1="648.5" y1="1024" x2="648.5" y2="1200" stroke="#000" stroke-opacity="0.024" stroke-dasharray="6 6"/>
<line x1="664.5" y1="1024" x2="664.5" y2="1200" stroke="#e5e5e5" stroke-dasharray="4 4"/>
<line x1="680.5" y1="1024" x2="680.5" y2="1200" stroke="#000" stroke-opacity="0.024" stroke-dasharray="6 6"/>
<line x1="696.5" y1="1024" x2="696.5" y2="1200" stroke="#000" stroke-opacity="0.024" stroke-dasharray="6 6"/>
<line x1="712.5" y1="1024" x2="712.5" y2="1200" stroke="#000" stroke-opacity="0.024" stroke-dasharray="6 6"/>
<line x1="728.5" y1="1024" x2="728.5" y2="1200" stroke="#000" stroke-opacity="0.024" stroke-dasharray="6 6"/>
<line x1="744.5" y1="1024" x2="744.5" y2="1200" stroke="#e5e5e5" stroke-dasharray="4 4"/>
<line x1="760.5" y1="1024" x2="760.5" y2="1200" stroke="#000" stroke-opacity="0.024" stroke-dasharray="6 6"/>
<line x1="776.5" y1="1024" x2="776.5" y2="1200" stroke="#000" stroke-opacity="0.024" stroke-dasharray="6 6"/>
<line x1="792.5" y1="1024" x2="792.5" y2="1200" stroke="#000" stroke-opacity="0.024" stroke-dasharray="6 6"/>
<line x1="807.5" y1="1024" x2="807.5" y2="1200" stroke="#000" stroke-opacity="0.024" stroke-dasharray="6 6"/>
<line x1="823.5" y1="1024" x2="823.5" y2="1200" stroke="#e5e5e5" stroke-dasharray="4 4"/>
<line x1="839.5" y1="1024" x2="839.5" y2="1200" stroke="#000" stroke-opacity="0.024" stroke-dasharray="6 6"/>
<line x1="855.5" y1="1024" x2="855.5" y2="1200" stroke="#000" stroke-opacity="0.024" stroke-dasharray="6 6"/>
<line x1="871.5" y1="1024" x2="871.5" y2="1200" stroke="#000" stroke-opacity="0.024" stroke-dasharray="6 6"/>
<line x1="887.5" y1="1024" x2="887.5" y2="1200" stroke="#000" stroke-opacity="0.024" stroke-dasharray="6 6"/>
<line x1="903.5" y1="1024" x2="903.5" y2="1200" stroke="#e5e5e5" stroke-dasharray="4 4"/>
<line x1="919.5" y1="1024" x2="919.5" y2="1200" stroke="#000" stroke-opacity="0.024" stroke-dasharray="6 6"/>
<line x1="935.5" y1="1024" x2="935.5" y2="1200" stroke="#000" stroke-opacity="0.024" stroke-dasharray="6 6"/>
<line x1="951.5" y1="1024" x2="951.5" y2="1200" stroke="#000" stroke-opacity="0.024" stroke-dasharray="6 6"/>
<line x1="967.5" y1="1024" x2="967.5" y2="1200" stroke="#000" stroke-opacity="0.024" stroke-dasharray="6 6"/>
<line x1="982.5" y1="1024" x2="982.5" y2="1200" stroke="#e5e5e5" stroke-dasharray="4 4"/>
<line x1="998.5" y1="1024" x2="998.5" y2="1200" stroke="#000" stroke-opacity="0.024" stroke-dasharray="6 6"/>
<line x1="1014.5" y1="1024" x2="1014.5" y2="1200" stroke="#000" stroke-opacity="0.024" stroke-dasharray="6 6"/>
<line x1="1030.5" y1="1024" x2="1030.5" y2="1200" stroke="#000" stroke-opacity="0.024" stroke-dasharray="6 6"/>
<line x1="1046.5" y1="1024" x2="1046.5" y2="1200" stroke="#000" stroke-opacity="0.024" stroke-dasharray="6 6"/>
<line x1="1062.5" y1="1024" x2="1062.5" y2="1200" stroke="#e5e5e5" stroke-dasharray="4 4"/>
<line x1="1078.5" y1="1024" x2="1078.5" y2="1200" stroke="#000" stroke-opacity="0.024" stroke-dasharray="6 6"/>
<line x1="1094.5" y1="1024" x2="1094.5" y2="1200" stroke="#000" stroke-opacity="0.024" stroke-dasharray="6 6"/>
<line x1="1110.5" y1="1024" x2="1110.5" y2="1200" stroke="#000" stroke-opacity="0.024" stroke-dasharray="6 6"/>
<line x1="1126.5" y1="1024" x2="1126.5" y2="1200" stroke="#000" stroke-opacity="0.024" stroke-dasharray="6 6"/>
<line x1="1142.5" y1="1024" x2="1142.5" y2="1200" stroke="#e5e5e5" stroke-dasharray="4 4"/>
<line x1="107" y1="1165.5" x2="1151" y2="1165.5" stroke="#e5e5e5" stroke-dasharray="4 4"/>
<line x1="107" y1="1130.5" x2="1151" y2="1130.5" stroke="#e5e5e5" stroke-dasharray="4 4"/>
<line x1="107" y1="1095.5" x2="1151" y2="1095.5" stroke="#e5e5e5" stroke-dasharray="4 4"/>
<line x1="107" y1="1060.5" x2="1151" y2="1060.5" stroke="#e5e5e5" stroke-dasharray="4 4"/>
<line x1="107" y1="1025.5" x2="1151" y2="1025.5" stroke="#e5e5e5" stroke-dasharray="4 4"/>
<line x1="100.5" y1="1019" x2="100.5" y2="1201" stroke="#000"/>
<line x1="100" y1="1200.5" x2="1157" y2="1200.5" stroke="#000"/>
<line x1="98" y1="1200.5" x2="103" y2="1200.5" stroke="#000"/>
<line x1="98" y1="1182.5" x2="101" y2="1182.5" stroke="#f00"/>
<line x1="98" y1="1165.5" x2="103" y2="1165.5" stroke="#000"/>
<line x1="98" y1="1147.5" x2="101" y2="1147.5" stroke="#f00"/>
<line x1="98" y1="1130.5" x2="103" y2="1130.5" stroke="#000"/>
<line x1="98" y1="1112.5" x2="101" y2="1112.5" stroke="#f00"/>
<line x1="98" y1="1095.5" x2="103" y2="1095.5" stroke="#000"/>
<line x1="98" y1="1077.5" x2="101" y2="1077.5" stroke="#f00"/>
<line x1="98" y1="1060.5" x2="103" y2="1060.5" stroke="#000"/>
<line x1="98" y1="1042.5" x2="101" y2="1042.5" stroke="#f00"/>
<line x1="98" y1="1025.5" x2="103" y2="1025.5" stroke="#000"/>
<line x1="107.5" y1="1198" x2="107.5" y2="1203" stroke="#000"/>
<line x1="123.5" y1="1201" x2="123.5" y2="1203" stroke="#e0e0e0"/>
<line x1="139.5" y1="1201" x2="139.5" y2="1203" stroke="#e0e0e0"/>
<line x1="155.5" y1="1201" x2="155.5" y2="1203" stroke="#e0e0e0"/>
<line x1="171.5" y1="1201" x2="171.5" y2="1203" stroke="#e0e0e0"/>
<line x1="187.5" y1="1198" x2="187.5" y2="1203" stroke="#000"/>
<line x1="203.5" y1="1201" x2="203.5" y2="1203" stroke="#e0e0e0"/>
<line x1="219.5" y1="1201" x2="219.5" y2="1203" stroke="#e0e0e0"/>
<line x1="235.5" y1="1201" x2="235.5" y2="1203" stroke="#e0e0e0"/>
<line x1="251.5" y1="1201" x2="251.5" y2="1203" stroke="#e0e0e0"/>
<line x1="267.5" y1="1198" x2="267.5" y2="1203" stroke="#000"/>
<line x1="282.5" y1="1201" x2="282.5" y2="1203" stroke="#e0e0e0"/>
<line x1="298.5" y1="1201" x2="298.5" y2="1203" stroke="#e0e0e0"/>
<line x1="314.5" y1="1201" x2="314.5" y2="1203" stroke="#e0e0e0"/>
<line x1="330.5" y1="1201" x2="330.5" y2="1203" stroke="#e0e0e0"/>
<line x1="346.5" y1="1198" x2="346.5" y2="1203" stroke="#000"/>
<line x1="362.5" y1="1201" x2="362.5" y2="1203" stroke="#e0e0e0"/>
<line x1="378.5" y1="1201" x2="378.5" y2="1203" stroke="#e0e0e0"/>
<line x1="394.5" y1="1201" x2="394.5" y2="1203" stroke="#e0e0e0"/>
<line x1="410.5" y1="1201" x2="410.5" y2="1203" stroke="#e0e0e0"/>
<line x1="426.5" y1="1198" x2="426.5" y2="1203" stroke="#000"/>
<line x1="442.5" y1="1201" x2="442.5" y2="1203" stroke="#e0e0e0"/>
<line x1="457.5" y1="1201" x2="457.5" y2="1203" stroke="#e0e0e0"/>
<line x1="473.5" y1="1201" x2="473.5" y2="1203" stroke="#e0e0e0"/>
<line x1="489.5" y1="1201" x2="489.5" y2="1203" stroke="#e0e0e0"/>
<line x1="505.5" y1="1198" x2="505.5" y2="1203" stroke="#000"/>
<line x1="521.5" y1="1201" x2="521.5" y2="1203" stroke="#e0e0e0"/>
<line x1="537.5" y1="1201" x2="537.5" y2="1203" stroke="#e0e0e0"/>
<line x1="553.5" y1="1201" x2="553.5" y2="1203" stroke="#e0e0e0"/>
<line x1="569.5" y1="1201" x2="569.5" y2="1203" stroke="#e0e0e0"/>
<line x1="585.5" y1="1198" x2="585.5" y2="1203" stroke="#000"/>
<line x1="601.5" y1="1201" x2="601.5" y2="1203" stroke="#e0e0e0"/>
<line x1="617.5" y1="1201" x2="617.5" y2="1203" stroke="#e0e0e0"/>
<line x1="632.5" y1="1201" x2="632.5" y2="1203" stroke="#e0e0e0"/>
<line x1="648.5" y1="1201" x2="648.5" y2="1203" stroke="#e0e0e0"/>
<line x1="664.5" y1="1198" x2="664.5" y2="1203" stroke="#000"/>
<line x1="680.5" y1="1201" x2="680.5" y2="1203" stroke="#e0e0e0"/>
<line x1="696.5" y1="1201" x2="696.5" y2="1203" stroke="#e0e0e0"/>
<line x1="712.5" y1="1201" x2="712.5" y2="1203" stroke="#e0e0e0"/>
<line x1="728.5" y1="1201" x2="728.5" y2="1203" stroke="#e0e0e0"/>
<line x1="744.5" y1="1198" x2="744.5" y2="1203" stroke="#000"/>
<line x1="760.5" y1="1201" x2="760.5" y2="1203" stroke="#e0e0e0"/>
<line x1="776.5" y1="1201" x2="776.5" y2="1203" stroke="#e0e0e0"/>
<line x1="792.5" y1="1201" x2="792.5" y2="1203" stroke="#e0e0e0"/>
<line x1="807.5" y1="1201" x2="807.5" y2="1203" stroke="#e0e0e0"/>
<line x1="823.5" y1="1198" x2="823.5" y2="1203" stroke="#000"/>
<line x1="839.5" y1="1201" x2="839.5" y2="1203" stroke="#e0e0e0"/>
<line x1="855.5" y1="1201" x2="855.5" y2="1203" stroke="#e0e0e0"/>
<line x1="871.5" y1="1201" x2="871.5" y2="1203" stroke="#e0e0e0"/>
<line x1="887.5" y1="1201" x2="887.5" y2="1203" stroke="#e0e0e0"/>
<line x1="903.5" y1="1198" x2="903.5" y2="1203" stroke="#000"/>
<line x1="919.5" y1="1201" x2="919.5" y2="1203" stroke="#e0e0e0"/>
<line x1="935.5" y1="1201" x2="935.5" y2="1203" stroke="#e0e0e0"/>
<line x1="951.5" y1="1201" x2="951.5" y2="1203" stroke="#e0e0e0"/>
<line x1="967.5" y1="1201" x2="967.5" y2="1203" stroke="#e0e0e0"/>
<line x1="982.5" y1="1198" x2="982.5" y2="1203" stroke="#000"/>
<line x1="998.5" y1="1201" x2="998.5" y2="1203" stroke="#e0e0e0"/>
<line x1="1014.5" y1="1201" x2="1014.5" y2="1203" stroke="#e0e0e0"/>
<line x1="1030.5" y1="1201" x2="1030.5" y2="1203" stroke="#e0e0e0"/>
<line x1="1046.5" y1="1201" x2="1046.5" y2="1203" stroke="#e0e0e0"/>
<line x1="1062.5" y1="1198" x2="1062.5" y2="1203" stroke="#000"/>
<line x1="1078.5" y1="1201" x2="1078.5" y2="1203" stroke="#e0e0e0"/>
<line x1="1094.5" y1="1201" x2="1094.5" y2="1203" stroke="#e0e0e0"/>
<line x1="1110.5" y1="1201" x2="1110.5" y2="1203" stroke="#e0e0e0"/>
<line x1="1126.5" y1="1201" x2="1126.5" y2="1203" stroke="#e0e0e0"/>
<line x1="1142.5" y1="1198" x2="1142.5" y2="1203" stroke="#000"/>
</g>
<polygon points="100.5,1012.5 96.8,1020 104.2,1020" fill="#000"/>
<polygon points="1163.5,1200.5 1155,1196.7 1155,1204.3" fill="#000"/>
<text class="l" x="98.2" y="1204.7" text-anchor="end" textLength="23.8" lengthAdjust="spacing">0.00</text>
<text class="l" x="98.2" y="1169.7" text-anchor="end" textLength="30.5" lengthAdjust="spacing">20.00</text>
<text class="l" x="98.2" y="1134.7" text-anchor="end" textLength="30.5" lengthAdjust="spacing">40.00</text>
<text class="l" x="98.2" y="1099.7" text-anchor="end" textLength="30.5" lengthAdjust="spacing">60.00</text>
<text class="l" x="98.2" y="1064.7" text-anchor="end" textLength="30.5" lengthAdjust="spacing">80.00</text>
<text class="l" x="98.2" y="1029.7" text-anchor="end" textLength="37.3" lengthAdjust="spacing">100.00</text>
<text class="l" x="109" y="1213" text-anchor="middle" textLength="42.9" lengthAdjust="spacing">18 Sept</text>
<text class="l" x="189" y="1213" text-anchor="middle" textLength="42.9" lengthAdjust="spacing">25 Sept</text>
<text class="l" x="269" y="1213" text-anchor="middle" textLength="29.8" lengthAdjust="spacing">2 Oct</text>
<text class="l" x="348" y="1213" text-anchor="middle" textLength="29.8" lengthAdjust="spacing">9 Oct</text>
<text class="l" x="428" y="1213" text-anchor="middle" textLength="36.8" lengthAdjust="spacing">16 Oct</text>
<text class="l" x="507" y="1213" text-anchor="middle" textLength="36.8" lengthAdjust="spacing">23 Oct</text>
<text class="l" x="587" y="1213" text-anchor="middle" textLength="36.8" lengthAdjust="spacing">30 Oct</text>
<text class="l" x="666" y="1213" text-anchor="middle" textLength="32.2" lengthAdjust="spacing">6 Nov</text>
<text class="l" x="746" y="1213" text-anchor="middle" textLength="39.3" lengthAdjust="spacing">13 Nov</text>
<text class="l" x="825" y="1213" text-anchor="middle" textLength="39.3" lengthAdjust="spacing">20 Nov</text>
<text class="l" x="905" y="1213" text-anchor="middle" textLength="39.3" lengthAdjust="spacing">27 Nov</text>
<text class="l" x="984" y="1213" text-anchor="middle" textLength="32.1" lengthAdjust="spacing">4 Déc</text>
<text class="l" x="1064" y="1213" text-anchor="middle" textLength="39.1" lengthAdjust="spacing">11 Déc</text>
<text class="l" x="1144" y="1213" text-anchor="middle" textLength="39.1" lengthAdjust="spacing">18 Déc</text>
<text class="l" x="626.5" y="1226.6" text-anchor="middle" textLength="302" lengthAdjust="spacing">Date (du 18 Septembre 2015 au 18 Décembre 2015)</text>
<text class="t" y="994.6" xml:space="preserve"><tspan x="111.4">Technicolor: </tspan><tspan x="264.4" letter-spacing="-0.35">graphique </tspan><tspan x="392.0">du </tspan><tspan x="429.4" letter-spacing="1.5">RSI </tspan><tspan x="481.5">- </tspan><tspan x="499.4" letter-spacing="1.1">RSI(14) </tspan><tspan x="604.8">- </tspan><tspan x="622.5" letter-spacing="-0.12">AnalyBourse.com</tspan></text>
<text class="l" transform="translate(58.3,1110.5) rotate(-90)" text-anchor="middle" textLength="18.3" lengthAdjust="spacing">RSI</text>
<line x1="107" y1="1112.5" x2="1143" y2="1112.5" stroke="#6e6e6e" shape-rendering="crispEdges"/>
<path d="M107.5,1123.5C109.3,1123.5 120.0,1122.3 123.5,1123.5C127.0,1124.7 136.0,1132.8 139.5,1134.5C143.0,1136.2 152.0,1137.8 155.5,1138.8C159.0,1139.7 168.0,1143.7 171.5,1143.2C175.0,1142.8 184.0,1134.4 187.5,1134.2C191.0,1134.1 200.0,1141.0 203.5,1141.5C207.0,1142.0 216.0,1140.2 219.5,1139.0C223.0,1137.8 232.0,1131.2 235.5,1130.5C239.0,1129.8 248.0,1133.7 251.5,1132.5C255.0,1131.3 264.1,1121.6 267.5,1119.5C270.9,1117.4 279.1,1114.5 282.5,1113.5C285.9,1112.5 295.0,1110.3 298.5,1110.0C302.0,1109.7 311.0,1109.8 314.5,1110.8C318.0,1111.7 327.0,1117.7 330.5,1119.0C334.0,1120.3 343.0,1121.7 346.5,1122.5C350.0,1123.3 359.0,1126.5 362.5,1126.2C366.0,1126.0 375.0,1120.1 378.5,1120.0C382.0,1119.9 391.0,1127.1 394.5,1125.5C398.0,1123.9 407.0,1107.5 410.5,1105.5C414.0,1103.5 423.0,1107.4 426.5,1107.2C430.0,1107.1 439.1,1105.7 442.5,1104.5C445.9,1103.3 454.1,1098.0 457.5,1096.5C460.9,1095.0 470.0,1089.7 473.5,1091.2C477.0,1092.8 486.0,1108.3 489.5,1110.5C493.0,1112.7 502.0,1111.2 505.5,1111.2C509.0,1111.2 518.0,1109.2 521.5,1110.5C525.0,1111.8 534.0,1121.8 537.5,1123.2C541.0,1124.7 550.0,1123.0 553.5,1123.5C557.0,1124.0 566.0,1127.9 569.5,1128.2C573.0,1128.6 582.0,1128.1 585.5,1126.2C589.0,1124.4 598.0,1114.5 601.5,1111.8C605.0,1109.0 614.1,1102.6 617.5,1101.2C620.9,1099.9 629.1,1099.2 632.5,1099.2C635.9,1099.2 645.0,1102.6 648.5,1101.2C652.0,1099.9 661.0,1087.6 664.5,1087.2C668.0,1086.9 677.0,1097.6 680.5,1098.2C684.0,1098.9 693.0,1093.9 696.5,1093.0C700.0,1092.1 709.0,1090.4 712.5,1090.5C716.0,1090.6 725.0,1092.8 728.5,1093.5C732.0,1094.2 741.0,1096.6 744.5,1096.5C748.0,1096.4 757.0,1093.9 760.5,1093.0C764.0,1092.1 773.0,1087.6 776.5,1088.0C780.0,1088.4 789.1,1096.2 792.5,1096.5C795.9,1096.8 804.1,1091.8 807.5,1091.0C810.9,1090.2 820.0,1089.4 823.5,1089.2C827.0,1089.1 836.0,1088.7 839.5,1089.5C843.0,1090.3 852.0,1096.1 855.5,1096.5C859.0,1096.9 868.0,1093.9 871.5,1093.2C875.0,1092.6 884.0,1091.6 887.5,1091.0C891.0,1090.4 900.0,1088.6 903.5,1088.0C907.0,1087.4 916.0,1085.3 919.5,1085.2C923.0,1085.2 932.0,1087.2 935.5,1087.2C939.0,1087.2 948.0,1084.7 951.5,1085.2C955.0,1085.8 964.1,1092.5 967.5,1092.5C970.9,1092.5 979.1,1086.9 982.5,1085.5C985.9,1084.1 995.0,1079.5 998.5,1080.0C1002.0,1080.5 1011.0,1089.7 1014.5,1090.5C1018.0,1091.3 1027.0,1086.4 1030.5,1087.2C1034.0,1088.1 1043.0,1096.8 1046.5,1098.5C1050.0,1100.2 1059.0,1101.3 1062.5,1102.5C1066.0,1103.7 1075.0,1110.6 1078.5,1109.5C1082.0,1108.4 1091.0,1094.0 1094.5,1092.5C1098.0,1091.0 1107.0,1097.1 1110.5,1095.5C1114.0,1093.9 1123.0,1079.5 1126.5,1078.2C1130.0,1077.0 1140.7,1083.8 1142.5,1084.5" fill="none" stroke="#f64040" stroke-width="1"/>
<g shape-rendering="crispEdges">
<rect x="101" y="1457" width="1050" height="22" fill="#f9f9f9"/>
<rect x="101" y="1413" width="1050" height="22" fill="#f9f9f9"/>
<rect x="101" y="1369" width="1050" height="22" fill="#f9f9f9"/>
<rect x="101" y="1326" width="1050" height="21" fill="#f9f9f9"/>
<line x1="107.5" y1="1324" x2="107.5" y2="1500" stroke="#e5e5e5" stroke-dasharray="4 4"/>
<line x1="123.5" y1="1324" x2="123.5" y2="1500" stroke="#000" stroke-opacity="0.024" stroke-dasharray="6 6"/>
<line x1="139.5" y1="1324" x2="139.5" y2="1500" stroke="#000" stroke-opacity="0.024" stroke-dasharray="6 6"/>
<line x1="155.5" y1="1324" x2="155.5" y2="1500" stroke="#000" stroke-opacity="0.024" stroke-dasharray="6 6"/>
<line x1="171.5" y1="1324" x2="171.5" y2="1500" stroke="#000" stroke-opacity="0.024" stroke-dasharray="6 6"/>
<line x1="187.5" y1="1324" x2="187.5" y2="1500" stroke="#e5e5e5" stroke-dasharray="4 4"/>
<line x1="203.5" y1="1324" x2="203.5" y2="1500" stroke="#000" stroke-opacity="0.024" stroke-dasharray="6 6"/>
<line x1="219.5" y1="1324" x2="219.5" y2="1500" stroke="#000" stroke-opacity="0.024" stroke-dasharray="6 6"/>
<line x1="235.5" y1="1324" x2="235.5" y2="1500" stroke="#000" stroke-opacity="0.024" stroke-dasharray="6 6"/>
<line x1="251.5" y1="1324" x2="251.5" y2="1500" stroke="#000" stroke-opacity="0.024" stroke-dasharray="6 6"/>
<line x1="267.5" y1="1324" x2="267.5" y2="1500" stroke="#e5e5e5" stroke-dasharray="4 4"/>
<line x1="282.5" y1="1324" x2="282.5" y2="1500" stroke="#000" stroke-opacity="0.024" stroke-dasharray="6 6"/>
<line x1="298.5" y1="1324" x2="298.5" y2="1500" stroke="#000" stroke-opacity="0.024" stroke-dasharray="6 6"/>
<line x1="314.5" y1="1324" x2="314.5" y2="1500" stroke="#000" stroke-opacity="0.024" stroke-dasharray="6 6"/>
<line x1="330.5" y1="1324" x2="330.5" y2="1500" stroke="#000" stroke-opacity="0.024" stroke-dasharray="6 6"/>
<line x1="346.5" y1="1324" x2="346.5" y2="1500" stroke="#e5e5e5" stroke-dasharray="4 4"/>
<line x1="362.5" y1="1324" x2="362.5" y2="1500" stroke="#000" stroke-opacity="0.024" stroke-dasharray="6 6"/>
<line x1="378.5" y1="1324" x2="378.5" y2="1500" stroke="#000" stroke-opacity="0.024" stroke-dasharray="6 6"/>
<line x1="394.5" y1="1324" x2="394.5" y2="1500" stroke="#000" stroke-opacity="0.024" stroke-dasharray="6 6"/>
<line x1="410.5" y1="1324" x2="410.5" y2="1500" stroke="#000" stroke-opacity="0.024" stroke-dasharray="6 6"/>
<line x1="426.5" y1="1324" x2="426.5" y2="1500" stroke="#e5e5e5" stroke-dasharray="4 4"/>
<line x1="442.5" y1="1324" x2="442.5" y2="1500" stroke="#000" stroke-opacity="0.024" stroke-dasharray="6 6"/>
<line x1="457.5" y1="1324" x2="457.5" y2="1500" stroke="#000" stroke-opacity="0.024" stroke-dasharray="6 6"/>
<line x1="473.5" y1="1324" x2="473.5" y2="1500" stroke="#000" stroke-opacity="0.024" stroke-dasharray="6 6"/>
<line x1="489.5" y1="1324" x2="489.5" y2="1500" stroke="#000" stroke-opacity="0.024" stroke-dasharray="6 6"/>
<line x1="505.5" y1="1324" x2="505.5" y2="1500" stroke="#e5e5e5" stroke-dasharray="4 4"/>
<line x1="521.5" y1="1324" x2="521.5" y2="1500" stroke="#000" stroke-opacity="0.024" stroke-dasharray="6 6"/>
<line x1="537.5" y1="1324" x2="537.5" y2="1500" stroke="#000" stroke-opacity="0.024" stroke-dasharray="6 6"/>
<line x1="553.5" y1="1324" x2="553.5" y2="1500" stroke="#000" stroke-opacity="0.024" stroke-dasharray="6 6"/>
<line x1="569.5" y1="1324" x2="569.5" y2="1500" stroke="#000" stroke-opacity="0.024" stroke-dasharray="6 6"/>
<line x1="585.5" y1="1324" x2="585.5" y2="1500" stroke="#e5e5e5" stroke-dasharray="4 4"/>
<line x1="601.5" y1="1324" x2="601.5" y2="1500" stroke="#000" stroke-opacity="0.024" stroke-dasharray="6 6"/>
<line x1="617.5" y1="1324" x2="617.5" y2="1500" stroke="#000" stroke-opacity="0.024" stroke-dasharray="6 6"/>
<line x1="632.5" y1="1324" x2="632.5" y2="1500" stroke="#000" stroke-opacity="0.024" stroke-dasharray="6 6"/>
<line x1="648.5" y1="1324" x2="648.5" y2="1500" stroke="#000" stroke-opacity="0.024" stroke-dasharray="6 6"/>
<line x1="664.5" y1="1324" x2="664.5" y2="1500" stroke="#e5e5e5" stroke-dasharray="4 4"/>
<line x1="680.5" y1="1324" x2="680.5" y2="1500" stroke="#000" stroke-opacity="0.024" stroke-dasharray="6 6"/>
<line x1="696.5" y1="1324" x2="696.5" y2="1500" stroke="#000" stroke-opacity="0.024" stroke-dasharray="6 6"/>
<line x1="712.5" y1="1324" x2="712.5" y2="1500" stroke="#000" stroke-opacity="0.024" stroke-dasharray="6 6"/>
<line x1="728.5" y1="1324" x2="728.5" y2="1500" stroke="#000" stroke-opacity="0.024" stroke-dasharray="6 6"/>
<line x1="744.5" y1="1324" x2="744.5" y2="1500" stroke="#e5e5e5" stroke-dasharray="4 4"/>
<line x1="760.5" y1="1324" x2="760.5" y2="1500" stroke="#000" stroke-opacity="0.024" stroke-dasharray="6 6"/>
<line x1="776.5" y1="1324" x2="776.5" y2="1500" stroke="#000" stroke-opacity="0.024" stroke-dasharray="6 6"/>
<line x1="792.5" y1="1324" x2="792.5" y2="1500" stroke="#000" stroke-opacity="0.024" stroke-dasharray="6 6"/>
<line x1="807.5" y1="1324" x2="807.5" y2="1500" stroke="#000" stroke-opacity="0.024" stroke-dasharray="6 6"/>
<line x1="823.5" y1="1324" x2="823.5" y2="1500" stroke="#e5e5e5" stroke-dasharray="4 4"/>
<line x1="839.5" y1="1324" x2="839.5" y2="1500" stroke="#000" stroke-opacity="0.024" stroke-dasharray="6 6"/>
<line x1="855.5" y1="1324" x2="855.5" y2="1500" stroke="#000" stroke-opacity="0.024" stroke-dasharray="6 6"/>
<line x1="871.5" y1="1324" x2="871.5" y2="1500" stroke="#000" stroke-opacity="0.024" stroke-dasharray="6 6"/>
<line x1="887.5" y1="1324" x2="887.5" y2="1500" stroke="#000" stroke-opacity="0.024" stroke-dasharray="6 6"/>
<line x1="903.5" y1="1324" x2="903.5" y2="1500" stroke="#e5e5e5" stroke-dasharray="4 4"/>
<line x1="919.5" y1="1324" x2="919.5" y2="1500" stroke="#000" stroke-opacity="0.024" stroke-dasharray="6 6"/>
<line x1="935.5" y1="1324" x2="935.5" y2="1500" stroke="#000" stroke-opacity="0.024" stroke-dasharray="6 6"/>
<line x1="951.5" y1="1324" x2="951.5" y2="1500" stroke="#000" stroke-opacity="0.024" stroke-dasharray="6 6"/>
<line x1="967.5" y1="1324" x2="967.5" y2="1500" stroke="#000" stroke-opacity="0.024" stroke-dasharray="6 6"/>
<line x1="982.5" y1="1324" x2="982.5" y2="1500" stroke="#e5e5e5" stroke-dasharray="4 4"/>
<line x1="998.5" y1="1324" x2="998.5" y2="1500" stroke="#000" stroke-opacity="0.024" stroke-dasharray="6 6"/>
<line x1="1014.5" y1="1324" x2="1014.5" y2="1500" stroke="#000" stroke-opacity="0.024" stroke-dasharray="6 6"/>
<line x1="1030.5" y1="1324" x2="1030.5" y2="1500" stroke="#000" stroke-opacity="0.024" stroke-dasharray="6 6"/>
<line x1="1046.5" y1="1324" x2="1046.5" y2="1500" stroke="#000" stroke-opacity="0.024" stroke-dasharray="6 6"/>
<line x1="1062.5" y1="1324" x2="1062.5" y2="1500" stroke="#e5e5e5" stroke-dasharray="4 4"/>
<line x1="1078.5" y1="1324" x2="1078.5" y2="1500" stroke="#000" stroke-opacity="0.024" stroke-dasharray="6 6"/>
<line x1="1094.5" y1="1324" x2="1094.5" y2="1500" stroke="#000" stroke-opacity="0.024" stroke-dasharray="6 6"/>
<line x1="1110.5" y1="1324" x2="1110.5" y2="1500" stroke="#000" stroke-opacity="0.024" stroke-dasharray="6 6"/>
<line x1="1126.5" y1="1324" x2="1126.5" y2="1500" stroke="#000" stroke-opacity="0.024" stroke-dasharray="6 6"/>
<line x1="1142.5" y1="1324" x2="1142.5" y2="1500" stroke="#e5e5e5" stroke-dasharray="4 4"/>
<line x1="107" y1="1478.5" x2="1151" y2="1478.5" stroke="#e5e5e5" stroke-dasharray="4 4"/>
<line x1="107" y1="1456.5" x2="1151" y2="1456.5" stroke="#e5e5e5" stroke-dasharray="4 4"/>
<line x1="107" y1="1434.5" x2="1151" y2="1434.5" stroke="#e5e5e5" stroke-dasharray="4 4"/>
<line x1="107" y1="1412.5" x2="1151" y2="1412.5" stroke="#e5e5e5" stroke-dasharray="4 4"/>
<line x1="107" y1="1390.5" x2="1151" y2="1390.5" stroke="#e5e5e5" stroke-dasharray="4 4"/>
<line x1="107" y1="1368.5" x2="1151" y2="1368.5" stroke="#e5e5e5" stroke-dasharray="4 4"/>
<line x1="107" y1="1346.5" x2="1151" y2="1346.5" stroke="#e5e5e5" stroke-dasharray="4 4"/>
<line x1="107" y1="1325.5" x2="1151" y2="1325.5" stroke="#e5e5e5" stroke-dasharray="4 4"/>
<line x1="100.5" y1="1319" x2="100.5" y2="1501" stroke="#000"/>
<line x1="100" y1="1500.5" x2="1157" y2="1500.5" stroke="#000"/>
<line x1="98" y1="1500.5" x2="103" y2="1500.5" stroke="#000"/>
<line x1="98" y1="1489.5" x2="101" y2="1489.5" stroke="#f00"/>
<line x1="98" y1="1478.5" x2="103" y2="1478.5" stroke="#000"/>
<line x1="98" y1="1467.5" x2="101" y2="1467.5" stroke="#f00"/>
<line x1="98" y1="1456.5" x2="103" y2="1456.5" stroke="#000"/>
<line x1="98" y1="1445.5" x2="101" y2="1445.5" stroke="#f00"/>
<line x1="98" y1="1434.5" x2="103" y2="1434.5" stroke="#000"/>
<line x1="98" y1="1423.5" x2="101" y2="1423.5" stroke="#f00"/>
<line x1="98" y1="1412.5" x2="103" y2="1412.5" stroke="#000"/>
<line x1="98" y1="1401.5" x2="101" y2="1401.5" stroke="#f00"/>
<line x1="98" y1="1390.5" x2="103" y2="1390.5" stroke="#000"/>
<line x1="98" y1="1379.5" x2="101" y2="1379.5" stroke="#f00"/>
<line x1="98" y1="1368.5" x2="103" y2="1368.5" stroke="#000"/>
<line x1="98" y1="1357.5" x2="101" y2="1357.5" stroke="#f00"/>
<line x1="98" y1="1346.5" x2="103" y2="1346.5" stroke="#000"/>
<line x1="98" y1="1335.5" x2="101" y2="1335.5" stroke="#f00"/>
<line x1="98" y1="1325.5" x2="103" y2="1325.5" stroke="#000"/>
<line x1="107.5" y1="1498" x2="107.5" y2="1503" stroke="#000"/>
<line x1="123.5" y1="1501" x2="123.5" y2="1503" stroke="#e0e0e0"/>
<line x1="139.5" y1="1501" x2="139.5" y2="1503" stroke="#e0e0e0"/>
<line x1="155.5" y1="1501" x2="155.5" y2="1503" stroke="#e0e0e0"/>
<line x1="171.5" y1="1501" x2="171.5" y2="1503" stroke="#e0e0e0"/>
<line x1="187.5" y1="1498" x2="187.5" y2="1503" stroke="#000"/>
<line x1="203.5" y1="1501" x2="203.5" y2="1503" stroke="#e0e0e0"/>
<line x1="219.5" y1="1501" x2="219.5" y2="1503" stroke="#e0e0e0"/>
<line x1="235.5" y1="1501" x2="235.5" y2="1503" stroke="#e0e0e0"/>
<line x1="251.5" y1="1501" x2="251.5" y2="1503" stroke="#e0e0e0"/>
<line x1="267.5" y1="1498" x2="267.5" y2="1503" stroke="#000"/>
<line x1="282.5" y1="1501" x2="282.5" y2="1503" stroke="#e0e0e0"/>
<line x1="298.5" y1="1501" x2="298.5" y2="1503" stroke="#e0e0e0"/>
<line x1="314.5" y1="1501" x2="314.5" y2="1503" stroke="#e0e0e0"/>
<line x1="330.5" y1="1501" x2="330.5" y2="1503" stroke="#e0e0e0"/>
<line x1="346.5" y1="1498" x2="346.5" y2="1503" stroke="#000"/>
<line x1="362.5" y1="1501" x2="362.5" y2="1503" stroke="#e0e0e0"/>
<line x1="378.5" y1="1501" x2="378.5" y2="1503" stroke="#e0e0e0"/>
<line x1="394.5" y1="1501" x2="394.5" y2="1503" stroke="#e0e0e0"/>
<line x1="410.5" y1="1501" x2="410.5" y2="1503" stroke="#e0e0e0"/>
<line x1="426.5" y1="1498" x2="426.5" y2="1503" stroke="#000"/>
<line x1="442.5" y1="1501" x2="442.5" y2="1503" stroke="#e0e0e0"/>
<line x1="457.5" y1="1501" x2="457.5" y2="1503" stroke="#e0e0e0"/>
<line x1="473.5" y1="1501" x2="473.5" y2="1503" stroke="#e0e0e0"/>
<line x1="489.5" y1="1501" x2="489.5" y2="1503" stroke="#e0e0e0"/>
<line x1="505.5" y1="1498" x2="505.5" y2="1503" stroke="#000"/>
<line x1="521.5" y1="1501" x2="521.5" y2="1503" stroke="#e0e0e0"/>
<line x1="537.5" y1="1501" x2="537.5" y2="1503" stroke="#e0e0e0"/>
<line x1="553.5" y1="1501" x2="553.5" y2="1503" stroke="#e0e0e0"/>
<line x1="569.5" y1="1501" x2="569.5" y2="1503" stroke="#e0e0e0"/>
<line x1="585.5" y1="1498" x2="585.5" y2="1503" stroke="#000"/>
<line x1="601.5" y1="1501" x2="601.5" y2="1503" stroke="#e0e0e0"/>
<line x1="617.5" y1="1501" x2="617.5" y2="1503" stroke="#e0e0e0"/>
<line x1="632.5" y1="1501" x2="632.5" y2="1503" stroke="#e0e0e0"/>
<line x1="648.5" y1="1501" x2="648.5" y2="1503" stroke="#e0e0e0"/>
<line x1="664.5" y1="1498" x2="664.5" y2="1503" stroke="#000"/>
<line x1="680.5" y1="1501" x2="680.5" y2="1503" stroke="#e0e0e0"/>
<line x1="696.5" y1="1501" x2="696.5" y2="1503" stroke="#e0e0e0"/>
<line x1="712.5" y1="1501" x2="712.5" y2="1503" stroke="#e0e0e0"/>
<line x1="728.5" y1="1501" x2="728.5" y2="1503" stroke="#e0e0e0"/>
<line x1="744.5" y1="1498" x2="744.5" y2="1503" stroke="#000"/>
<line x1="760.5" y1="1501" x2="760.5" y2="1503" stroke="#e0e0e0"/>
<line x1="776.5" y1="1501" x2="776.5" y2="1503" stroke="#e0e0e0"/>
<line x1="792.5" y1="1501" x2="792.5" y2="1503" stroke="#e0e0e0"/>
<line x1="807.5" y1="1501" x2="807.5" y2="1503" stroke="#e0e0e0"/>
<line x1="823.5" y1="1498" x2="823.5" y2="1503" stroke="#000"/>
<line x1="839.5" y1="1501" x2="839.5" y2="1503" stroke="#e0e0e0"/>
<line x1="855.5" y1="1501" x2="855.5" y2="1503" stroke="#e0e0e0"/>
<line x1="871.5" y1="1501" x2="871.5" y2="1503" stroke="#e0e0e0"/>
<line x1="887.5" y1="1501" x2="887.5" y2="1503" stroke="#e0e0e0"/>
<line x1="903.5" y1="1498" x2="903.5" y2="1503" stroke="#000"/>
<line x1="919.5" y1="1501" x2="919.5" y2="1503" stroke="#e0e0e0"/>
<line x1="935.5" y1="1501" x2="935.5" y2="1503" stroke="#e0e0e0"/>
<line x1="951.5" y1="1501" x2="951.5" y2="1503" stroke="#e0e0e0"/>
<line x1="967.5" y1="1501" x2="967.5" y2="1503" stroke="#e0e0e0"/>
<line x1="982.5" y1="1498" x2="982.5" y2="1503" stroke="#000"/>
<line x1="998.5" y1="1501" x2="998.5" y2="1503" stroke="#e0e0e0"/>
<line x1="1014.5" y1="1501" x2="1014.5" y2="1503" stroke="#e0e0e0"/>
<line x1="1030.5" y1="1501" x2="1030.5" y2="1503" stroke="#e0e0e0"/>
<line x1="1046.5" y1="1501" x2="1046.5" y2="1503" stroke="#e0e0e0"/>
<line x1="1062.5" y1="1498" x2="1062.5" y2="1503" stroke="#000"/>
<line x1="1078.5" y1="1501" x2="1078.5" y2="1503" stroke="#e0e0e0"/>
<line x1="1094.5" y1="1501" x2="1094.5" y2="1503" stroke="#e0e0e0"/>
<line x1="1110.5" y1="1501" x2="1110.5" y2="1503" stroke="#e0e0e0"/>
<line x1="1126.5" y1="1501" x2="1126.5" y2="1503" stroke="#e0e0e0"/>
<line x1="1142.5" y1="1498" x2="1142.5" y2="1503" stroke="#000"/>
</g>
<polygon points="100.5,1312.5 96.8,1320 104.2,1320" fill="#000"/>
<polygon points="1163.5,1500.5 1155,1496.7 1155,1504.3" fill="#000"/>
<text class="l" x="98.2" y="1504.7" text-anchor="end" textLength="27.6" lengthAdjust="spacing">-0.08</text>
<text class="l" x="98.2" y="1482.7" text-anchor="end" textLength="27.6" lengthAdjust="spacing">-0.06</text>
<text class="l" x="98.2" y="1460.7" text-anchor="end" textLength="27.6" lengthAdjust="spacing">-0.04</text>
<text class="l" x="98.2" y="1438.7" text-anchor="end" textLength="27.6" lengthAdjust="spacing">-0.02</text>
<text class="l" x="98.2" y="1416.7" text-anchor="end" textLength="23.8" lengthAdjust="spacing">0.00</text>
<text class="l" x="98.2" y="1394.7" text-anchor="end" textLength="23.8" lengthAdjust="spacing">0.02</text>
<text class="l" x="98.2" y="1372.7" text-anchor="end" textLength="23.8" lengthAdjust="spacing">0.04</text>
<text class="l" x="98.2" y="1350.7" text-anchor="end" textLength="23.8" lengthAdjust="spacing">0.06</text>
<text class="l" x="98.2" y="1329.7" text-anchor="end" textLength="23.8" lengthAdjust="spacing">0.08</text>
<text class="l" x="109" y="1513" text-anchor="middle" textLength="42.9" lengthAdjust="spacing">18 Sept</text>
<text class="l" x="189" y="1513" text-anchor="middle" textLength="42.9" lengthAdjust="spacing">25 Sept</text>
<text class="l" x="269" y="1513" text-anchor="middle" textLength="29.8" lengthAdjust="spacing">2 Oct</text>
<text class="l" x="348" y="1513" text-anchor="middle" textLength="29.8" lengthAdjust="spacing">9 Oct</text>
<text class="l" x="428" y="1513" text-anchor="middle" textLength="36.8" lengthAdjust="spacing">16 Oct</text>
<text class="l" x="507" y="1513" text-anchor="middle" textLength="36.8" lengthAdjust="spacing">23 Oct</text>
<text class="l" x="587" y="1513" text-anchor="middle" textLength="36.8" lengthAdjust="spacing">30 Oct</text>
<text class="l" x="666" y="1513" text-anchor="middle" textLength="32.2" lengthAdjust="spacing">6 Nov</text>
<text class="l" x="746" y="1513" text-anchor="middle" textLength="39.3" lengthAdjust="spacing">13 Nov</text>
<text class="l" x="825" y="1513" text-anchor="middle" textLength="39.3" lengthAdjust="spacing">20 Nov</text>
<text class="l" x="905" y="1513" text-anchor="middle" textLength="39.3" lengthAdjust="spacing">27 Nov</text>
<text class="l" x="984" y="1513" text-anchor="middle" textLength="32.1" lengthAdjust="spacing">4 Déc</text>
<text class="l" x="1064" y="1513" text-anchor="middle" textLength="39.1" lengthAdjust="spacing">11 Déc</text>
<text class="l" x="1144" y="1513" text-anchor="middle" textLength="39.1" lengthAdjust="spacing">18 Déc</text>
<text class="l" x="626.5" y="1526.6" text-anchor="middle" textLength="302" lengthAdjust="spacing">Date (du 18 Septembre 2015 au 18 Décembre 2015)</text>
<text class="t" y="1294.6" xml:space="preserve"><tspan x="111.4">Technicolor: </tspan><tspan x="264.4" letter-spacing="-0.35">graphique </tspan><tspan x="392.0">du </tspan><tspan x="429.4">MACD </tspan><tspan x="511.5">- </tspan><tspan x="528.7" letter-spacing="0.28">MACD(12,26,9) </tspan><tspan x="725.5">- </tspan><tspan x="743.1" letter-spacing="-0.12">AnalyBourse.com</tspan></text>
<text class="l" transform="translate(66.7,1410.5) rotate(-90)" text-anchor="middle" textLength="32.7" lengthAdjust="spacing">MACD</text>
<defs><clipPath id="up"><rect x="100" y="1320" width="1060" height="93"/></clipPath><clipPath id="dn"><rect x="100" y="1413" width="1060" height="90"/></clipPath></defs>
<path d="M107.5,1426.0C109.3,1427.0 120.0,1432.3 123.5,1435.5C127.0,1438.7 136.0,1450.9 139.5,1455.0C143.0,1459.1 152.0,1469.3 155.5,1473.0C159.0,1476.7 168.0,1486.7 171.5,1488.2C175.0,1489.8 184.0,1486.6 187.5,1487.0C191.0,1487.4 200.0,1491.7 203.5,1491.8C207.0,1491.8 216.0,1489.6 219.5,1487.5C223.0,1485.4 232.0,1475.4 235.5,1472.5C239.0,1469.6 248.0,1465.1 251.5,1461.2C255.0,1457.4 264.1,1442.6 267.5,1437.5C270.9,1432.4 279.1,1419.3 282.5,1414.5C285.9,1409.7 295.0,1397.3 298.5,1393.8C302.0,1390.2 311.0,1383.5 314.5,1382.5C318.0,1381.5 327.0,1383.5 330.5,1384.5C334.0,1385.5 343.0,1389.9 346.5,1391.5C350.0,1393.1 359.0,1398.3 362.5,1399.0C366.0,1399.7 375.0,1397.7 378.5,1398.2C382.0,1398.8 391.0,1405.2 394.5,1403.8C398.0,1402.3 407.0,1388.4 410.5,1385.5C414.0,1382.6 423.0,1379.3 426.5,1377.5C430.0,1375.7 439.1,1371.8 442.5,1369.5C445.9,1367.2 454.1,1359.7 457.5,1357.0C460.9,1354.3 470.0,1344.7 473.5,1345.0C477.0,1345.3 486.0,1356.5 489.5,1359.5C493.0,1362.5 502.0,1369.7 505.5,1372.0C509.0,1374.3 518.0,1376.6 521.5,1380.0C525.0,1383.4 534.0,1398.3 537.5,1402.5C541.0,1406.7 550.0,1414.6 553.5,1418.0C557.0,1421.4 566.0,1430.5 569.5,1433.0C573.0,1435.5 582.0,1441.0 585.5,1440.5C589.0,1440.0 598.0,1431.5 601.5,1428.0C605.0,1424.5 614.1,1412.7 617.5,1408.8C620.9,1404.8 629.1,1395.1 632.5,1392.5C635.9,1389.9 645.0,1388.4 648.5,1385.0C652.0,1381.6 661.0,1364.6 664.5,1362.0C668.0,1359.4 677.0,1361.7 680.5,1361.0C684.0,1360.3 693.0,1356.7 696.5,1355.8C700.0,1354.8 709.0,1352.0 712.5,1352.0C716.0,1352.0 725.0,1354.3 728.5,1355.8C732.0,1357.2 741.0,1363.5 744.5,1365.0C748.0,1366.5 757.0,1369.1 760.5,1369.5C764.0,1369.9 773.0,1368.0 776.5,1369.0C780.0,1370.0 789.1,1377.7 792.5,1379.0C795.9,1380.3 804.1,1380.2 807.5,1380.5C810.9,1380.8 820.0,1381.3 823.5,1381.8C827.0,1382.2 836.0,1383.5 839.5,1385.0C843.0,1386.5 852.0,1393.3 855.5,1395.0C859.0,1396.7 868.0,1399.6 871.5,1400.5C875.0,1401.4 884.0,1402.5 887.5,1402.8C891.0,1403.0 900.0,1402.6 903.5,1402.5C907.0,1402.4 916.0,1401.6 919.5,1401.8C923.0,1401.9 932.0,1403.1 935.5,1403.5C939.0,1403.9 948.0,1404.1 951.5,1405.0C955.0,1405.9 964.1,1410.7 967.5,1411.2C970.9,1411.8 979.1,1410.7 982.5,1410.0C985.9,1409.3 995.0,1405.1 998.5,1405.0C1002.0,1404.9 1011.0,1408.1 1014.5,1408.8C1018.0,1409.4 1027.0,1409.3 1030.5,1410.5C1034.0,1411.7 1043.0,1417.3 1046.5,1419.2C1050.0,1421.2 1059.0,1425.6 1062.5,1428.0C1066.0,1430.4 1075.0,1440.3 1078.5,1440.8C1082.0,1441.2 1091.0,1433.1 1094.5,1431.8C1098.0,1430.4 1107.0,1431.7 1110.5,1428.8C1114.0,1425.8 1123.0,1408.1 1126.5,1404.5C1130.0,1400.9 1140.7,1396.9 1142.5,1396.0L1142.5,1413L107.5,1413Z" fill="rgba(124,251,124,0.8)" clip-path="url(#up)"/>
<path d="M107.5,1426.0C109.3,1427.0 120.0,1432.3 123.5,1435.5C127.0,1438.7 136.0,1450.9 139.5,1455.0C143.0,1459.1 152.0,1469.3 155.5,1473.0C159.0,1476.7 168.0,1486.7 171.5,1488.2C175.0,1489.8 184.0,1486.6 187.5,1487.0C191.0,1487.4 200.0,1491.7 203.5,1491.8C207.0,1491.8 216.0,1489.6 219.5,1487.5C223.0,1485.4 232.0,1475.4 235.5,1472.5C239.0,1469.6 248.0,1465.1 251.5,1461.2C255.0,1457.4 264.1,1442.6 267.5,1437.5C270.9,1432.4 279.1,1419.3 282.5,1414.5C285.9,1409.7 295.0,1397.3 298.5,1393.8C302.0,1390.2 311.0,1383.5 314.5,1382.5C318.0,1381.5 327.0,1383.5 330.5,1384.5C334.0,1385.5 343.0,1389.9 346.5,1391.5C350.0,1393.1 359.0,1398.3 362.5,1399.0C366.0,1399.7 375.0,1397.7 378.5,1398.2C382.0,1398.8 391.0,1405.2 394.5,1403.8C398.0,1402.3 407.0,1388.4 410.5,1385.5C414.0,1382.6 423.0,1379.3 426.5,1377.5C430.0,1375.7 439.1,1371.8 442.5,1369.5C445.9,1367.2 454.1,1359.7 457.5,1357.0C460.9,1354.3 470.0,1344.7 473.5,1345.0C477.0,1345.3 486.0,1356.5 489.5,1359.5C493.0,1362.5 502.0,1369.7 505.5,1372.0C509.0,1374.3 518.0,1376.6 521.5,1380.0C525.0,1383.4 534.0,1398.3 537.5,1402.5C541.0,1406.7 550.0,1414.6 553.5,1418.0C557.0,1421.4 566.0,1430.5 569.5,1433.0C573.0,1435.5 582.0,1441.0 585.5,1440.5C589.0,1440.0 598.0,1431.5 601.5,1428.0C605.0,1424.5 614.1,1412.7 617.5,1408.8C620.9,1404.8 629.1,1395.1 632.5,1392.5C635.9,1389.9 645.0,1388.4 648.5,1385.0C652.0,1381.6 661.0,1364.6 664.5,1362.0C668.0,1359.4 677.0,1361.7 680.5,1361.0C684.0,1360.3 693.0,1356.7 696.5,1355.8C700.0,1354.8 709.0,1352.0 712.5,1352.0C716.0,1352.0 725.0,1354.3 728.5,1355.8C732.0,1357.2 741.0,1363.5 744.5,1365.0C748.0,1366.5 757.0,1369.1 760.5,1369.5C764.0,1369.9 773.0,1368.0 776.5,1369.0C780.0,1370.0 789.1,1377.7 792.5,1379.0C795.9,1380.3 804.1,1380.2 807.5,1380.5C810.9,1380.8 820.0,1381.3 823.5,1381.8C827.0,1382.2 836.0,1383.5 839.5,1385.0C843.0,1386.5 852.0,1393.3 855.5,1395.0C859.0,1396.7 868.0,1399.6 871.5,1400.5C875.0,1401.4 884.0,1402.5 887.5,1402.8C891.0,1403.0 900.0,1402.6 903.5,1402.5C907.0,1402.4 916.0,1401.6 919.5,1401.8C923.0,1401.9 932.0,1403.1 935.5,1403.5C939.0,1403.9 948.0,1404.1 951.5,1405.0C955.0,1405.9 964.1,1410.7 967.5,1411.2C970.9,1411.8 979.1,1410.7 982.5,1410.0C985.9,1409.3 995.0,1405.1 998.5,1405.0C1002.0,1404.9 1011.0,1408.1 1014.5,1408.8C1018.0,1409.4 1027.0,1409.3 1030.5,1410.5C1034.0,1411.7 1043.0,1417.3 1046.5,1419.2C1050.0,1421.2 1059.0,1425.6 1062.5,1428.0C1066.0,1430.4 1075.0,1440.3 1078.5,1440.8C1082.0,1441.2 1091.0,1433.1 1094.5,1431.8C1098.0,1430.4 1107.0,1431.7 1110.5,1428.8C1114.0,1425.8 1123.0,1408.1 1126.5,1404.5C1130.0,1400.9 1140.7,1396.9 1142.5,1396.0L1142.5,1413L107.5,1413Z" fill="rgba(251,120,120,0.8)" clip-path="url(#dn)"/>
</svg></body></html>
